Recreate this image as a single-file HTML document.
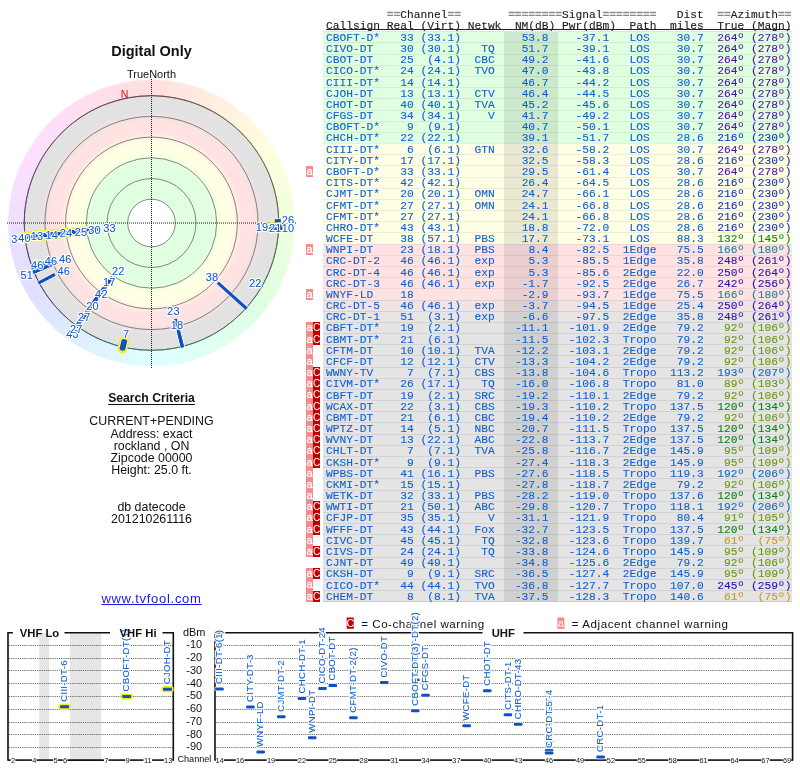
<!DOCTYPE html>
<html><head><meta charset="utf-8"><title>TV Fool</title>
<style>
html,body{margin:0;padding:0;background:#fff;}
body{width:800px;height:768px;position:relative;overflow:hidden;font-family:"Liberation Sans",sans-serif;}
.abs{position:absolute;}
.m{position:absolute;font-family:"Liberation Mono",monospace;font-size:11.24px;line-height:11.176px;height:11.176px;white-space:pre;color:#1060d0;-webkit-text-stroke-width:0.1px;}
.h{position:absolute;font-family:"Liberation Mono",monospace;font-size:11.24px;line-height:11px;white-space:pre;color:#1a1a1a;-webkit-text-stroke-width:0.12px;}
.g{color:#8a8a8a;-webkit-text-stroke:0.45px #8a8a8a;}
.row{position:absolute;left:323px;width:469px;height:11.176px;box-sizing:border-box;}
.c{position:absolute;font-size:12.4px;line-height:12.4px;color:#111;white-space:pre;text-align:center;left:0;width:303px;}
.wa{position:absolute;left:306px;width:7px;background:#f58a8a;color:#fff;font-family:"Liberation Sans",sans-serif;font-size:11px;text-align:center;-webkit-text-stroke:0.3px #fff;}
.wc{position:absolute;left:313px;width:7px;background:#c00000;color:#fff;font-family:"Liberation Sans",sans-serif;font-size:10px;text-align:center;}
</style></head><body><div id="w" style="position:absolute;left:0;top:0;width:800px;height:768px;will-change:transform;">

<div class="c" style="top:42px;font-size:14.5px;line-height:18px;font-weight:bold;">Digital Only</div>
<div class="c" style="top:67.9px;font-size:11px;line-height:12px;">TrueNorth</div>
<div class="c" style="top:391px;font-size:12.2px;line-height:14px;font-weight:bold;"><span style="text-decoration:underline;text-underline-offset:1.5px;text-decoration-thickness:1.4px;">Search Criteria</span></div>
<div class="c" style="top:414.6px;">CURRENT+PENDING</div>
<div class="c" style="top:427.6px;">Address: exact</div>
<div class="c" style="top:439.6px;">rockland , ON</div>
<div class="c" style="top:451.6px;">Zipcode 00000</div>
<div class="c" style="top:463.6px;">Height: 25.0 ft.</div>
<div class="c" style="top:500.6px;">db datecode</div>
<div class="c" style="top:513.4px;">201210261116</div>
<div class="c" style="top:590.8px;font-size:13px;line-height:16px;color:#1a1ad8;letter-spacing:0.7px;"><span style="text-decoration:underline;">www.tvfool.com</span></div>
<div class="h" style="left:386.71px;top:10px;"><span class="g">==</span>Channel<span class="g">==</span></div>
<div class="h" style="left:508.14px;top:10px;"><span class="g">========</span>Signal<span class="g">========</span></div>
<div class="h" style="left:676.79px;top:10px;">Dist</div>
<div class="h" style="left:717.27px;top:10px;"><span class="g">==</span>Azimuth<span class="g">==</span></div>
<div class="h" style="left:326.00px;top:21.4px;">Callsign</div>
<div class="h" style="left:386.71px;top:21.4px;">Real</div>
<div class="h" style="left:420.44px;top:21.4px;">(Virt)</div>
<div class="h" style="left:467.67px;top:21.4px;">Netwk</div>
<div class="h" style="left:514.89px;top:21.4px;">NM(dB)</div>
<div class="h" style="left:562.11px;top:21.4px;">Pwr(dBm)</div>
<div class="h" style="left:629.57px;top:21.4px;">Path</div>
<div class="h" style="left:670.05px;top:21.4px;">miles</div>
<div class="h" style="left:717.27px;top:21.4px;">True</div>
<div class="h" style="left:751.00px;top:21.4px;">(Magn)</div>
<div class="abs" style="left:326px;top:29.3px;width:464px;height:1.1px;background:#222;"></div>
<div class="abs" style="left:323px;width:469px;top:31.800px;height:112.065px;background:#e0ffe0;"></div>
<div class="abs" style="left:323px;width:469px;top:143.565px;height:100.888px;background:#ffffe6;"></div>
<div class="abs" style="left:323px;width:469px;top:244.153px;height:56.182px;background:#ffe3e3;"></div>
<div class="abs" style="left:323px;width:469px;top:300.035px;height:11.476px;background:#f1e3e3;"></div>
<div class="abs" style="left:323px;width:469px;top:311.212px;height:11.476px;background:#e7e4e4;"></div>
<div class="abs" style="left:323px;width:469px;top:322.388px;height:279.712px;background:#e4e4e4;"></div>
<div class="abs" style="left:323px;width:469px;top:31.300px;height:1px;background:#d0eed0;"></div>
<div class="abs" style="left:323px;width:469px;top:42.476px;height:1px;background:#d0eed0;"></div>
<div class="abs" style="left:323px;width:469px;top:53.653px;height:1px;background:#d0eed0;"></div>
<div class="abs" style="left:323px;width:469px;top:64.829px;height:1px;background:#d0eed0;"></div>
<div class="abs" style="left:323px;width:469px;top:76.006px;height:1px;background:#d0eed0;"></div>
<div class="abs" style="left:323px;width:469px;top:87.182px;height:1px;background:#d0eed0;"></div>
<div class="abs" style="left:323px;width:469px;top:98.359px;height:1px;background:#d0eed0;"></div>
<div class="abs" style="left:323px;width:469px;top:109.535px;height:1px;background:#d0eed0;"></div>
<div class="abs" style="left:323px;width:469px;top:120.712px;height:1px;background:#d0eed0;"></div>
<div class="abs" style="left:323px;width:469px;top:131.888px;height:1px;background:#d0eed0;"></div>
<div class="abs" style="left:323px;width:469px;top:143.065px;height:1px;background:#eeeed6;"></div>
<div class="abs" style="left:323px;width:469px;top:154.241px;height:1px;background:#eeeed6;"></div>
<div class="abs" style="left:323px;width:469px;top:165.418px;height:1px;background:#eeeed6;"></div>
<div class="abs" style="left:323px;width:469px;top:176.594px;height:1px;background:#eeeed6;"></div>
<div class="abs" style="left:323px;width:469px;top:187.771px;height:1px;background:#eeeed6;"></div>
<div class="abs" style="left:323px;width:469px;top:198.947px;height:1px;background:#eeeed6;"></div>
<div class="abs" style="left:323px;width:469px;top:210.124px;height:1px;background:#eeeed6;"></div>
<div class="abs" style="left:323px;width:469px;top:221.300px;height:1px;background:#eeeed6;"></div>
<div class="abs" style="left:323px;width:469px;top:232.476px;height:1px;background:#eeeed6;"></div>
<div class="abs" style="left:323px;width:469px;top:243.653px;height:1px;background:#eed5d5;"></div>
<div class="abs" style="left:323px;width:469px;top:254.829px;height:1px;background:#eed5d5;"></div>
<div class="abs" style="left:323px;width:469px;top:266.006px;height:1px;background:#eed5d5;"></div>
<div class="abs" style="left:323px;width:469px;top:277.182px;height:1px;background:#eed5d5;"></div>
<div class="abs" style="left:323px;width:469px;top:288.359px;height:1px;background:#eed5d5;"></div>
<div class="abs" style="left:323px;width:469px;top:299.535px;height:1px;background:#e0d2d2;"></div>
<div class="abs" style="left:323px;width:469px;top:310.712px;height:1px;background:#d5d2d2;"></div>
<div class="abs" style="left:323px;width:469px;top:321.888px;height:1px;background:#d3d3d3;"></div>
<div class="abs" style="left:323px;width:469px;top:333.065px;height:1px;background:#d3d3d3;"></div>
<div class="abs" style="left:323px;width:469px;top:344.241px;height:1px;background:#d3d3d3;"></div>
<div class="abs" style="left:323px;width:469px;top:355.418px;height:1px;background:#d3d3d3;"></div>
<div class="abs" style="left:323px;width:469px;top:366.594px;height:1px;background:#d3d3d3;"></div>
<div class="abs" style="left:323px;width:469px;top:377.771px;height:1px;background:#d3d3d3;"></div>
<div class="abs" style="left:323px;width:469px;top:388.947px;height:1px;background:#d3d3d3;"></div>
<div class="abs" style="left:323px;width:469px;top:400.124px;height:1px;background:#d3d3d3;"></div>
<div class="abs" style="left:323px;width:469px;top:411.300px;height:1px;background:#d3d3d3;"></div>
<div class="abs" style="left:323px;width:469px;top:422.476px;height:1px;background:#d3d3d3;"></div>
<div class="abs" style="left:323px;width:469px;top:433.653px;height:1px;background:#d3d3d3;"></div>
<div class="abs" style="left:323px;width:469px;top:444.829px;height:1px;background:#d3d3d3;"></div>
<div class="abs" style="left:323px;width:469px;top:456.006px;height:1px;background:#d3d3d3;"></div>
<div class="abs" style="left:323px;width:469px;top:467.182px;height:1px;background:#d3d3d3;"></div>
<div class="abs" style="left:323px;width:469px;top:478.359px;height:1px;background:#d3d3d3;"></div>
<div class="abs" style="left:323px;width:469px;top:489.535px;height:1px;background:#d3d3d3;"></div>
<div class="abs" style="left:323px;width:469px;top:500.712px;height:1px;background:#d3d3d3;"></div>
<div class="abs" style="left:323px;width:469px;top:511.888px;height:1px;background:#d3d3d3;"></div>
<div class="abs" style="left:323px;width:469px;top:523.065px;height:1px;background:#d3d3d3;"></div>
<div class="abs" style="left:323px;width:469px;top:534.241px;height:1px;background:#d3d3d3;"></div>
<div class="abs" style="left:323px;width:469px;top:545.418px;height:1px;background:#d3d3d3;"></div>
<div class="abs" style="left:323px;width:469px;top:556.594px;height:1px;background:#d3d3d3;"></div>
<div class="abs" style="left:323px;width:469px;top:567.771px;height:1px;background:#d3d3d3;"></div>
<div class="abs" style="left:323px;width:469px;top:578.947px;height:1px;background:#d3d3d3;"></div>
<div class="abs" style="left:323px;width:469px;top:590.124px;height:1px;background:#d3d3d3;"></div>
<div class="abs" style="left:504.2px;top:31.80px;width:53.8px;height:570.00px;background:rgba(0,0,0,0.085);"></div>
<div class="abs" style="left:323px;top:601.30px;width:469px;height:1px;background:#cacaca;"></div>
<div class="m" style="left:326.00px;top:32.900px;">CBOFT-D*</div>
<div class="m" style="left:400.21px;top:32.900px;">33</div>
<div class="m" style="left:420.44px;top:32.900px;">(33.1)</div>
<div class="m" style="left:521.63px;top:32.900px;">53.8</div>
<div class="m" style="left:575.60px;top:32.900px;">-37.1</div>
<div class="m" style="left:629.57px;top:32.900px;">LOS</div>
<div class="m" style="left:676.79px;top:32.900px;">30.7</div>
<div class="m" style="left:717.27px;top:32.900px;color:#5010a0;">264º</div>
<div class="m" style="left:751.00px;top:32.900px;color:#5010a0;">(278º)</div>
<div class="m" style="left:326.00px;top:44.076px;">CIVO-DT</div>
<div class="m" style="left:400.21px;top:44.076px;">30</div>
<div class="m" style="left:420.44px;top:44.076px;">(30.1)</div>
<div class="m" style="left:481.16px;top:44.076px;">TQ</div>
<div class="m" style="left:521.63px;top:44.076px;">51.7</div>
<div class="m" style="left:575.60px;top:44.076px;">-39.1</div>
<div class="m" style="left:629.57px;top:44.076px;">LOS</div>
<div class="m" style="left:676.79px;top:44.076px;">30.7</div>
<div class="m" style="left:717.27px;top:44.076px;color:#5010a0;">264º</div>
<div class="m" style="left:751.00px;top:44.076px;color:#5010a0;">(278º)</div>
<div class="m" style="left:326.00px;top:55.253px;">CBOT-DT</div>
<div class="m" style="left:400.21px;top:55.253px;">25</div>
<div class="m" style="left:427.19px;top:55.253px;">(4.1)</div>
<div class="m" style="left:474.41px;top:55.253px;">CBC</div>
<div class="m" style="left:521.63px;top:55.253px;">49.2</div>
<div class="m" style="left:575.60px;top:55.253px;">-41.6</div>
<div class="m" style="left:629.57px;top:55.253px;">LOS</div>
<div class="m" style="left:676.79px;top:55.253px;">30.7</div>
<div class="m" style="left:717.27px;top:55.253px;color:#5010a0;">264º</div>
<div class="m" style="left:751.00px;top:55.253px;color:#5010a0;">(278º)</div>
<div class="m" style="left:326.00px;top:66.429px;">CICO-DT*</div>
<div class="m" style="left:400.21px;top:66.429px;">24</div>
<div class="m" style="left:420.44px;top:66.429px;">(24.1)</div>
<div class="m" style="left:474.41px;top:66.429px;">TVO</div>
<div class="m" style="left:521.63px;top:66.429px;">47.0</div>
<div class="m" style="left:575.60px;top:66.429px;">-43.8</div>
<div class="m" style="left:629.57px;top:66.429px;">LOS</div>
<div class="m" style="left:676.79px;top:66.429px;">30.7</div>
<div class="m" style="left:717.27px;top:66.429px;color:#5010a0;">264º</div>
<div class="m" style="left:751.00px;top:66.429px;color:#5010a0;">(278º)</div>
<div class="m" style="left:326.00px;top:77.606px;">CIII-DT*</div>
<div class="m" style="left:400.21px;top:77.606px;">14</div>
<div class="m" style="left:420.44px;top:77.606px;">(14.1)</div>
<div class="m" style="left:521.63px;top:77.606px;">46.7</div>
<div class="m" style="left:575.60px;top:77.606px;">-44.2</div>
<div class="m" style="left:629.57px;top:77.606px;">LOS</div>
<div class="m" style="left:676.79px;top:77.606px;">30.7</div>
<div class="m" style="left:717.27px;top:77.606px;color:#5010a0;">264º</div>
<div class="m" style="left:751.00px;top:77.606px;color:#5010a0;">(278º)</div>
<div class="m" style="left:326.00px;top:88.782px;">CJOH-DT</div>
<div class="m" style="left:400.21px;top:88.782px;">13</div>
<div class="m" style="left:420.44px;top:88.782px;">(13.1)</div>
<div class="m" style="left:474.41px;top:88.782px;">CTV</div>
<div class="m" style="left:521.63px;top:88.782px;">46.4</div>
<div class="m" style="left:575.60px;top:88.782px;">-44.5</div>
<div class="m" style="left:629.57px;top:88.782px;">LOS</div>
<div class="m" style="left:676.79px;top:88.782px;">30.7</div>
<div class="m" style="left:717.27px;top:88.782px;color:#5010a0;">264º</div>
<div class="m" style="left:751.00px;top:88.782px;color:#5010a0;">(278º)</div>
<div class="m" style="left:326.00px;top:99.959px;">CHOT-DT</div>
<div class="m" style="left:400.21px;top:99.959px;">40</div>
<div class="m" style="left:420.44px;top:99.959px;">(40.1)</div>
<div class="m" style="left:474.41px;top:99.959px;">TVA</div>
<div class="m" style="left:521.63px;top:99.959px;">45.2</div>
<div class="m" style="left:575.60px;top:99.959px;">-45.6</div>
<div class="m" style="left:629.57px;top:99.959px;">LOS</div>
<div class="m" style="left:676.79px;top:99.959px;">30.7</div>
<div class="m" style="left:717.27px;top:99.959px;color:#5010a0;">264º</div>
<div class="m" style="left:751.00px;top:99.959px;color:#5010a0;">(278º)</div>
<div class="m" style="left:326.00px;top:111.135px;">CFGS-DT</div>
<div class="m" style="left:400.21px;top:111.135px;">34</div>
<div class="m" style="left:420.44px;top:111.135px;">(34.1)</div>
<div class="m" style="left:487.90px;top:111.135px;">V</div>
<div class="m" style="left:521.63px;top:111.135px;">41.7</div>
<div class="m" style="left:575.60px;top:111.135px;">-49.2</div>
<div class="m" style="left:629.57px;top:111.135px;">LOS</div>
<div class="m" style="left:676.79px;top:111.135px;">30.7</div>
<div class="m" style="left:717.27px;top:111.135px;color:#5010a0;">264º</div>
<div class="m" style="left:751.00px;top:111.135px;color:#5010a0;">(278º)</div>
<div class="m" style="left:326.00px;top:122.312px;">CBOFT-D*</div>
<div class="m" style="left:406.95px;top:122.312px;">9</div>
<div class="m" style="left:427.19px;top:122.312px;">(9.1)</div>
<div class="m" style="left:521.63px;top:122.312px;">40.7</div>
<div class="m" style="left:575.60px;top:122.312px;">-50.1</div>
<div class="m" style="left:629.57px;top:122.312px;">LOS</div>
<div class="m" style="left:676.79px;top:122.312px;">30.7</div>
<div class="m" style="left:717.27px;top:122.312px;color:#5010a0;">264º</div>
<div class="m" style="left:751.00px;top:122.312px;color:#5010a0;">(278º)</div>
<div class="m" style="left:326.00px;top:133.488px;">CHCH-DT*</div>
<div class="m" style="left:400.21px;top:133.488px;">22</div>
<div class="m" style="left:420.44px;top:133.488px;">(22.1)</div>
<div class="m" style="left:521.63px;top:133.488px;">39.1</div>
<div class="m" style="left:575.60px;top:133.488px;">-51.7</div>
<div class="m" style="left:629.57px;top:133.488px;">LOS</div>
<div class="m" style="left:676.79px;top:133.488px;">28.6</div>
<div class="m" style="left:717.27px;top:133.488px;color:#1830b0;">216º</div>
<div class="m" style="left:751.00px;top:133.488px;color:#1830b0;">(230º)</div>
<div class="m" style="left:326.00px;top:144.665px;">CIII-DT*</div>
<div class="m" style="left:406.95px;top:144.665px;">6</div>
<div class="m" style="left:427.19px;top:144.665px;">(6.1)</div>
<div class="m" style="left:474.41px;top:144.665px;">GTN</div>
<div class="m" style="left:521.63px;top:144.665px;">32.6</div>
<div class="m" style="left:575.60px;top:144.665px;">-58.2</div>
<div class="m" style="left:629.57px;top:144.665px;">LOS</div>
<div class="m" style="left:676.79px;top:144.665px;">30.7</div>
<div class="m" style="left:717.27px;top:144.665px;color:#5010a0;">264º</div>
<div class="m" style="left:751.00px;top:144.665px;color:#5010a0;">(278º)</div>
<div class="m" style="left:326.00px;top:155.841px;">CITY-DT*</div>
<div class="m" style="left:400.21px;top:155.841px;">17</div>
<div class="m" style="left:420.44px;top:155.841px;">(17.1)</div>
<div class="m" style="left:521.63px;top:155.841px;">32.5</div>
<div class="m" style="left:575.60px;top:155.841px;">-58.3</div>
<div class="m" style="left:629.57px;top:155.841px;">LOS</div>
<div class="m" style="left:676.79px;top:155.841px;">28.6</div>
<div class="m" style="left:717.27px;top:155.841px;color:#1830b0;">216º</div>
<div class="m" style="left:751.00px;top:155.841px;color:#1830b0;">(230º)</div>
<div class="m" style="left:326.00px;top:167.018px;">CBOFT-D*</div>
<div class="m" style="left:400.21px;top:167.018px;">33</div>
<div class="m" style="left:420.44px;top:167.018px;">(33.1)</div>
<div class="m" style="left:521.63px;top:167.018px;">29.5</div>
<div class="m" style="left:575.60px;top:167.018px;">-61.4</div>
<div class="m" style="left:629.57px;top:167.018px;">LOS</div>
<div class="m" style="left:676.79px;top:167.018px;">30.7</div>
<div class="m" style="left:717.27px;top:167.018px;color:#5010a0;">264º</div>
<div class="m" style="left:751.00px;top:167.018px;color:#5010a0;">(278º)</div>
<div class="wa" style="top:165.918px;height:11.226px;line-height:10.176px;">a</div>
<div class="m" style="left:326.00px;top:178.194px;">CITS-DT*</div>
<div class="m" style="left:400.21px;top:178.194px;">42</div>
<div class="m" style="left:420.44px;top:178.194px;">(42.1)</div>
<div class="m" style="left:521.63px;top:178.194px;">26.4</div>
<div class="m" style="left:575.60px;top:178.194px;">-64.5</div>
<div class="m" style="left:629.57px;top:178.194px;">LOS</div>
<div class="m" style="left:676.79px;top:178.194px;">28.6</div>
<div class="m" style="left:717.27px;top:178.194px;color:#1830b0;">216º</div>
<div class="m" style="left:751.00px;top:178.194px;color:#1830b0;">(230º)</div>
<div class="m" style="left:326.00px;top:189.371px;">CJMT-DT*</div>
<div class="m" style="left:400.21px;top:189.371px;">20</div>
<div class="m" style="left:420.44px;top:189.371px;">(20.1)</div>
<div class="m" style="left:474.41px;top:189.371px;">OMN</div>
<div class="m" style="left:521.63px;top:189.371px;">24.7</div>
<div class="m" style="left:575.60px;top:189.371px;">-66.1</div>
<div class="m" style="left:629.57px;top:189.371px;">LOS</div>
<div class="m" style="left:676.79px;top:189.371px;">28.6</div>
<div class="m" style="left:717.27px;top:189.371px;color:#1830b0;">216º</div>
<div class="m" style="left:751.00px;top:189.371px;color:#1830b0;">(230º)</div>
<div class="m" style="left:326.00px;top:200.547px;">CFMT-DT*</div>
<div class="m" style="left:400.21px;top:200.547px;">27</div>
<div class="m" style="left:420.44px;top:200.547px;">(27.1)</div>
<div class="m" style="left:474.41px;top:200.547px;">OMN</div>
<div class="m" style="left:521.63px;top:200.547px;">24.1</div>
<div class="m" style="left:575.60px;top:200.547px;">-66.8</div>
<div class="m" style="left:629.57px;top:200.547px;">LOS</div>
<div class="m" style="left:676.79px;top:200.547px;">28.6</div>
<div class="m" style="left:717.27px;top:200.547px;color:#1830b0;">216º</div>
<div class="m" style="left:751.00px;top:200.547px;color:#1830b0;">(230º)</div>
<div class="m" style="left:326.00px;top:211.724px;">CFMT-DT*</div>
<div class="m" style="left:400.21px;top:211.724px;">27</div>
<div class="m" style="left:420.44px;top:211.724px;">(27.1)</div>
<div class="m" style="left:521.63px;top:211.724px;">24.1</div>
<div class="m" style="left:575.60px;top:211.724px;">-66.8</div>
<div class="m" style="left:629.57px;top:211.724px;">LOS</div>
<div class="m" style="left:676.79px;top:211.724px;">28.6</div>
<div class="m" style="left:717.27px;top:211.724px;color:#1830b0;">216º</div>
<div class="m" style="left:751.00px;top:211.724px;color:#1830b0;">(230º)</div>
<div class="m" style="left:326.00px;top:222.900px;">CHRO-DT*</div>
<div class="m" style="left:400.21px;top:222.900px;">43</div>
<div class="m" style="left:420.44px;top:222.900px;">(43.1)</div>
<div class="m" style="left:521.63px;top:222.900px;">18.8</div>
<div class="m" style="left:575.60px;top:222.900px;">-72.0</div>
<div class="m" style="left:629.57px;top:222.900px;">LOS</div>
<div class="m" style="left:676.79px;top:222.900px;">28.6</div>
<div class="m" style="left:717.27px;top:222.900px;color:#1830b0;">216º</div>
<div class="m" style="left:751.00px;top:222.900px;color:#1830b0;">(230º)</div>
<div class="m" style="left:326.00px;top:234.076px;">WCFE-DT</div>
<div class="m" style="left:400.21px;top:234.076px;">38</div>
<div class="m" style="left:420.44px;top:234.076px;">(57.1)</div>
<div class="m" style="left:474.41px;top:234.076px;">PBS</div>
<div class="m" style="left:521.63px;top:234.076px;">17.7</div>
<div class="m" style="left:575.60px;top:234.076px;">-73.1</div>
<div class="m" style="left:629.57px;top:234.076px;">LOS</div>
<div class="m" style="left:676.79px;top:234.076px;">88.3</div>
<div class="m" style="left:717.27px;top:234.076px;color:#108818;">132º</div>
<div class="m" style="left:751.00px;top:234.076px;color:#108818;">(145º)</div>
<div class="m" style="left:326.00px;top:245.253px;">WNPI-DT</div>
<div class="m" style="left:400.21px;top:245.253px;">23</div>
<div class="m" style="left:420.44px;top:245.253px;">(18.1)</div>
<div class="m" style="left:474.41px;top:245.253px;">PBS</div>
<div class="m" style="left:528.38px;top:245.253px;">8.4</div>
<div class="m" style="left:575.60px;top:245.253px;">-82.5</div>
<div class="m" style="left:622.82px;top:245.253px;">1Edge</div>
<div class="m" style="left:676.79px;top:245.253px;">75.5</div>
<div class="m" style="left:717.27px;top:245.253px;color:#208098;">166º</div>
<div class="m" style="left:751.00px;top:245.253px;color:#208098;">(180º)</div>
<div class="wa" style="top:244.153px;height:11.226px;line-height:10.176px;">a</div>
<div class="m" style="left:326.00px;top:256.429px;">CRC-DT-2</div>
<div class="m" style="left:400.21px;top:256.429px;">46</div>
<div class="m" style="left:420.44px;top:256.429px;">(46.1)</div>
<div class="m" style="left:474.41px;top:256.429px;">exp</div>
<div class="m" style="left:528.38px;top:256.429px;">5.3</div>
<div class="m" style="left:575.60px;top:256.429px;">-85.5</div>
<div class="m" style="left:622.82px;top:256.429px;">1Edge</div>
<div class="m" style="left:676.79px;top:256.429px;">35.8</div>
<div class="m" style="left:717.27px;top:256.429px;color:#3010b0;">248º</div>
<div class="m" style="left:751.00px;top:256.429px;color:#3010b0;">(261º)</div>
<div class="m" style="left:326.00px;top:267.606px;">CRC-DT-4</div>
<div class="m" style="left:400.21px;top:267.606px;">46</div>
<div class="m" style="left:420.44px;top:267.606px;">(46.1)</div>
<div class="m" style="left:474.41px;top:267.606px;">exp</div>
<div class="m" style="left:528.38px;top:267.606px;">5.3</div>
<div class="m" style="left:575.60px;top:267.606px;">-85.6</div>
<div class="m" style="left:622.82px;top:267.606px;">2Edge</div>
<div class="m" style="left:676.79px;top:267.606px;">22.0</div>
<div class="m" style="left:717.27px;top:267.606px;color:#3010b0;">250º</div>
<div class="m" style="left:751.00px;top:267.606px;color:#3010b0;">(264º)</div>
<div class="m" style="left:326.00px;top:278.782px;">CRC-DT-3</div>
<div class="m" style="left:400.21px;top:278.782px;">46</div>
<div class="m" style="left:420.44px;top:278.782px;">(46.1)</div>
<div class="m" style="left:474.41px;top:278.782px;">exp</div>
<div class="m" style="left:521.63px;top:278.782px;">-1.7</div>
<div class="m" style="left:575.60px;top:278.782px;">-92.5</div>
<div class="m" style="left:622.82px;top:278.782px;">2Edge</div>
<div class="m" style="left:676.79px;top:278.782px;">26.7</div>
<div class="m" style="left:717.27px;top:278.782px;color:#2010b0;">242º</div>
<div class="m" style="left:751.00px;top:278.782px;color:#2010b0;">(256º)</div>
<div class="m" style="left:326.00px;top:289.959px;">WNYF-LD</div>
<div class="m" style="left:400.21px;top:289.959px;">18</div>
<div class="m" style="left:521.63px;top:289.959px;">-2.9</div>
<div class="m" style="left:575.60px;top:289.959px;">-93.7</div>
<div class="m" style="left:622.82px;top:289.959px;">1Edge</div>
<div class="m" style="left:676.79px;top:289.959px;">75.5</div>
<div class="m" style="left:717.27px;top:289.959px;color:#208098;">166º</div>
<div class="m" style="left:751.00px;top:289.959px;color:#208098;">(180º)</div>
<div class="wa" style="top:288.859px;height:11.226px;line-height:10.176px;">a</div>
<div class="m" style="left:326.00px;top:301.135px;">CRC-DT-5</div>
<div class="m" style="left:400.21px;top:301.135px;">46</div>
<div class="m" style="left:420.44px;top:301.135px;">(46.1)</div>
<div class="m" style="left:474.41px;top:301.135px;">exp</div>
<div class="m" style="left:521.63px;top:301.135px;">-3.7</div>
<div class="m" style="left:575.60px;top:301.135px;">-94.5</div>
<div class="m" style="left:622.82px;top:301.135px;">1Edge</div>
<div class="m" style="left:676.79px;top:301.135px;">25.4</div>
<div class="m" style="left:717.27px;top:301.135px;color:#3010b0;">250º</div>
<div class="m" style="left:751.00px;top:301.135px;color:#3010b0;">(264º)</div>
<div class="m" style="left:326.00px;top:312.312px;">CRC-DT-1</div>
<div class="m" style="left:400.21px;top:312.312px;">51</div>
<div class="m" style="left:427.19px;top:312.312px;">(3.1)</div>
<div class="m" style="left:474.41px;top:312.312px;">exp</div>
<div class="m" style="left:521.63px;top:312.312px;">-6.6</div>
<div class="m" style="left:575.60px;top:312.312px;">-97.5</div>
<div class="m" style="left:622.82px;top:312.312px;">2Edge</div>
<div class="m" style="left:676.79px;top:312.312px;">35.8</div>
<div class="m" style="left:717.27px;top:312.312px;color:#3010b0;">248º</div>
<div class="m" style="left:751.00px;top:312.312px;color:#3010b0;">(261º)</div>
<div class="m" style="left:326.00px;top:323.488px;">CBFT-DT*</div>
<div class="m" style="left:400.21px;top:323.488px;">19</div>
<div class="m" style="left:427.19px;top:323.488px;">(2.1)</div>
<div class="m" style="left:514.89px;top:323.488px;">-11.1</div>
<div class="m" style="left:568.86px;top:323.488px;">-101.9</div>
<div class="m" style="left:622.82px;top:323.488px;">2Edge</div>
<div class="m" style="left:676.79px;top:323.488px;">79.2</div>
<div class="m" style="left:724.01px;top:323.488px;color:#689810;">92º</div>
<div class="m" style="left:751.00px;top:323.488px;color:#689810;">(106º)</div>
<div class="wa" style="top:322.388px;height:11.226px;line-height:10.176px;">a</div>
<div class="wc" style="top:322.388px;height:11.226px;line-height:11.176px;">C</div>
<div class="m" style="left:326.00px;top:334.665px;">CBMT-DT*</div>
<div class="m" style="left:400.21px;top:334.665px;">21</div>
<div class="m" style="left:427.19px;top:334.665px;">(6.1)</div>
<div class="m" style="left:514.89px;top:334.665px;">-11.5</div>
<div class="m" style="left:568.86px;top:334.665px;">-102.3</div>
<div class="m" style="left:622.82px;top:334.665px;">Tropo</div>
<div class="m" style="left:676.79px;top:334.665px;">79.2</div>
<div class="m" style="left:724.01px;top:334.665px;color:#689810;">92º</div>
<div class="m" style="left:751.00px;top:334.665px;color:#689810;">(106º)</div>
<div class="wa" style="top:333.565px;height:11.226px;line-height:10.176px;">a</div>
<div class="wc" style="top:333.565px;height:11.226px;line-height:11.176px;">C</div>
<div class="m" style="left:326.00px;top:345.841px;">CFTM-DT</div>
<div class="m" style="left:400.21px;top:345.841px;">10</div>
<div class="m" style="left:420.44px;top:345.841px;">(10.1)</div>
<div class="m" style="left:474.41px;top:345.841px;">TVA</div>
<div class="m" style="left:514.89px;top:345.841px;">-12.2</div>
<div class="m" style="left:568.86px;top:345.841px;">-103.1</div>
<div class="m" style="left:622.82px;top:345.841px;">2Edge</div>
<div class="m" style="left:676.79px;top:345.841px;">79.2</div>
<div class="m" style="left:724.01px;top:345.841px;color:#689810;">92º</div>
<div class="m" style="left:751.00px;top:345.841px;color:#689810;">(106º)</div>
<div class="wa" style="top:344.741px;height:11.226px;line-height:10.176px;">a</div>
<div class="m" style="left:326.00px;top:357.018px;">CFCF-DT</div>
<div class="m" style="left:400.21px;top:357.018px;">12</div>
<div class="m" style="left:420.44px;top:357.018px;">(12.1)</div>
<div class="m" style="left:474.41px;top:357.018px;">CTV</div>
<div class="m" style="left:514.89px;top:357.018px;">-13.3</div>
<div class="m" style="left:568.86px;top:357.018px;">-104.2</div>
<div class="m" style="left:622.82px;top:357.018px;">2Edge</div>
<div class="m" style="left:676.79px;top:357.018px;">79.2</div>
<div class="m" style="left:724.01px;top:357.018px;color:#689810;">92º</div>
<div class="m" style="left:751.00px;top:357.018px;color:#689810;">(106º)</div>
<div class="wa" style="top:355.918px;height:11.226px;line-height:10.176px;">a</div>
<div class="m" style="left:326.00px;top:368.194px;">WWNY-TV</div>
<div class="m" style="left:406.95px;top:368.194px;">7</div>
<div class="m" style="left:427.19px;top:368.194px;">(7.1)</div>
<div class="m" style="left:474.41px;top:368.194px;">CBS</div>
<div class="m" style="left:514.89px;top:368.194px;">-13.8</div>
<div class="m" style="left:568.86px;top:368.194px;">-104.6</div>
<div class="m" style="left:622.82px;top:368.194px;">Tropo</div>
<div class="m" style="left:670.05px;top:368.194px;">113.2</div>
<div class="m" style="left:717.27px;top:368.194px;color:#1868b8;">193º</div>
<div class="m" style="left:751.00px;top:368.194px;color:#1868b8;">(207º)</div>
<div class="wa" style="top:367.094px;height:11.226px;line-height:10.176px;">a</div>
<div class="wc" style="top:367.094px;height:11.226px;line-height:11.176px;">C</div>
<div class="m" style="left:326.00px;top:379.371px;">CIVM-DT*</div>
<div class="m" style="left:400.21px;top:379.371px;">26</div>
<div class="m" style="left:420.44px;top:379.371px;">(17.1)</div>
<div class="m" style="left:481.16px;top:379.371px;">TQ</div>
<div class="m" style="left:514.89px;top:379.371px;">-16.0</div>
<div class="m" style="left:568.86px;top:379.371px;">-106.8</div>
<div class="m" style="left:622.82px;top:379.371px;">Tropo</div>
<div class="m" style="left:676.79px;top:379.371px;">81.0</div>
<div class="m" style="left:724.01px;top:379.371px;color:#689810;">89º</div>
<div class="m" style="left:751.00px;top:379.371px;color:#689810;">(103º)</div>
<div class="wa" style="top:378.271px;height:11.226px;line-height:10.176px;">a</div>
<div class="wc" style="top:378.271px;height:11.226px;line-height:11.176px;">C</div>
<div class="m" style="left:326.00px;top:390.547px;">CBFT-DT</div>
<div class="m" style="left:400.21px;top:390.547px;">19</div>
<div class="m" style="left:427.19px;top:390.547px;">(2.1)</div>
<div class="m" style="left:474.41px;top:390.547px;">SRC</div>
<div class="m" style="left:514.89px;top:390.547px;">-19.2</div>
<div class="m" style="left:568.86px;top:390.547px;">-110.1</div>
<div class="m" style="left:622.82px;top:390.547px;">2Edge</div>
<div class="m" style="left:676.79px;top:390.547px;">79.2</div>
<div class="m" style="left:724.01px;top:390.547px;color:#689810;">92º</div>
<div class="m" style="left:751.00px;top:390.547px;color:#689810;">(106º)</div>
<div class="wa" style="top:389.447px;height:11.226px;line-height:10.176px;">a</div>
<div class="wc" style="top:389.447px;height:11.226px;line-height:11.176px;">C</div>
<div class="m" style="left:326.00px;top:401.724px;">WCAX-DT</div>
<div class="m" style="left:400.21px;top:401.724px;">22</div>
<div class="m" style="left:427.19px;top:401.724px;">(3.1)</div>
<div class="m" style="left:474.41px;top:401.724px;">CBS</div>
<div class="m" style="left:514.89px;top:401.724px;">-19.3</div>
<div class="m" style="left:568.86px;top:401.724px;">-110.2</div>
<div class="m" style="left:622.82px;top:401.724px;">Tropo</div>
<div class="m" style="left:670.05px;top:401.724px;">137.5</div>
<div class="m" style="left:717.27px;top:401.724px;color:#108018;">120º</div>
<div class="m" style="left:751.00px;top:401.724px;color:#108018;">(134º)</div>
<div class="wa" style="top:400.624px;height:11.226px;line-height:10.176px;">a</div>
<div class="wc" style="top:400.624px;height:11.226px;line-height:11.176px;">C</div>
<div class="m" style="left:326.00px;top:412.900px;">CBMT-DT</div>
<div class="m" style="left:400.21px;top:412.900px;">21</div>
<div class="m" style="left:427.19px;top:412.900px;">(6.1)</div>
<div class="m" style="left:474.41px;top:412.900px;">CBC</div>
<div class="m" style="left:514.89px;top:412.900px;">-19.4</div>
<div class="m" style="left:568.86px;top:412.900px;">-110.2</div>
<div class="m" style="left:622.82px;top:412.900px;">2Edge</div>
<div class="m" style="left:676.79px;top:412.900px;">79.2</div>
<div class="m" style="left:724.01px;top:412.900px;color:#689810;">92º</div>
<div class="m" style="left:751.00px;top:412.900px;color:#689810;">(106º)</div>
<div class="wa" style="top:411.800px;height:11.226px;line-height:10.176px;">a</div>
<div class="wc" style="top:411.800px;height:11.226px;line-height:11.176px;">C</div>
<div class="m" style="left:326.00px;top:424.076px;">WPTZ-DT</div>
<div class="m" style="left:400.21px;top:424.076px;">14</div>
<div class="m" style="left:427.19px;top:424.076px;">(5.1)</div>
<div class="m" style="left:474.41px;top:424.076px;">NBC</div>
<div class="m" style="left:514.89px;top:424.076px;">-20.7</div>
<div class="m" style="left:568.86px;top:424.076px;">-111.5</div>
<div class="m" style="left:622.82px;top:424.076px;">Tropo</div>
<div class="m" style="left:670.05px;top:424.076px;">137.5</div>
<div class="m" style="left:717.27px;top:424.076px;color:#108018;">120º</div>
<div class="m" style="left:751.00px;top:424.076px;color:#108018;">(134º)</div>
<div class="wa" style="top:422.976px;height:11.226px;line-height:10.176px;">a</div>
<div class="wc" style="top:422.976px;height:11.226px;line-height:11.176px;">C</div>
<div class="m" style="left:326.00px;top:435.253px;">WVNY-DT</div>
<div class="m" style="left:400.21px;top:435.253px;">13</div>
<div class="m" style="left:420.44px;top:435.253px;">(22.1)</div>
<div class="m" style="left:474.41px;top:435.253px;">ABC</div>
<div class="m" style="left:514.89px;top:435.253px;">-22.8</div>
<div class="m" style="left:568.86px;top:435.253px;">-113.7</div>
<div class="m" style="left:622.82px;top:435.253px;">2Edge</div>
<div class="m" style="left:670.05px;top:435.253px;">137.5</div>
<div class="m" style="left:717.27px;top:435.253px;color:#108018;">120º</div>
<div class="m" style="left:751.00px;top:435.253px;color:#108018;">(134º)</div>
<div class="wa" style="top:434.153px;height:11.226px;line-height:10.176px;">a</div>
<div class="wc" style="top:434.153px;height:11.226px;line-height:11.176px;">C</div>
<div class="m" style="left:326.00px;top:446.429px;">CHLT-DT</div>
<div class="m" style="left:406.95px;top:446.429px;">7</div>
<div class="m" style="left:427.19px;top:446.429px;">(7.1)</div>
<div class="m" style="left:474.41px;top:446.429px;">TVA</div>
<div class="m" style="left:514.89px;top:446.429px;">-25.8</div>
<div class="m" style="left:568.86px;top:446.429px;">-116.7</div>
<div class="m" style="left:622.82px;top:446.429px;">2Edge</div>
<div class="m" style="left:670.05px;top:446.429px;">145.9</div>
<div class="m" style="left:724.01px;top:446.429px;color:#689810;">95º</div>
<div class="m" style="left:751.00px;top:446.429px;color:#689810;">(109º)</div>
<div class="wa" style="top:445.329px;height:11.226px;line-height:10.176px;">a</div>
<div class="wc" style="top:445.329px;height:11.226px;line-height:11.176px;">C</div>
<div class="m" style="left:326.00px;top:457.606px;">CKSH-DT*</div>
<div class="m" style="left:406.95px;top:457.606px;">9</div>
<div class="m" style="left:427.19px;top:457.606px;">(9.1)</div>
<div class="m" style="left:514.89px;top:457.606px;">-27.4</div>
<div class="m" style="left:568.86px;top:457.606px;">-118.3</div>
<div class="m" style="left:622.82px;top:457.606px;">2Edge</div>
<div class="m" style="left:670.05px;top:457.606px;">145.9</div>
<div class="m" style="left:724.01px;top:457.606px;color:#689810;">95º</div>
<div class="m" style="left:751.00px;top:457.606px;color:#689810;">(109º)</div>
<div class="wa" style="top:456.506px;height:11.226px;line-height:10.176px;">a</div>
<div class="wc" style="top:456.506px;height:11.226px;line-height:11.176px;">C</div>
<div class="m" style="left:326.00px;top:468.782px;">WPBS-DT</div>
<div class="m" style="left:400.21px;top:468.782px;">41</div>
<div class="m" style="left:420.44px;top:468.782px;">(16.1)</div>
<div class="m" style="left:474.41px;top:468.782px;">PBS</div>
<div class="m" style="left:514.89px;top:468.782px;">-27.6</div>
<div class="m" style="left:568.86px;top:468.782px;">-118.5</div>
<div class="m" style="left:622.82px;top:468.782px;">Tropo</div>
<div class="m" style="left:670.05px;top:468.782px;">119.3</div>
<div class="m" style="left:717.27px;top:468.782px;color:#1868b8;">192º</div>
<div class="m" style="left:751.00px;top:468.782px;color:#1868b8;">(206º)</div>
<div class="wa" style="top:467.682px;height:11.226px;line-height:10.176px;">a</div>
<div class="m" style="left:326.00px;top:479.959px;">CKMI-DT*</div>
<div class="m" style="left:400.21px;top:479.959px;">15</div>
<div class="m" style="left:420.44px;top:479.959px;">(15.1)</div>
<div class="m" style="left:514.89px;top:479.959px;">-27.8</div>
<div class="m" style="left:568.86px;top:479.959px;">-118.7</div>
<div class="m" style="left:622.82px;top:479.959px;">2Edge</div>
<div class="m" style="left:676.79px;top:479.959px;">79.2</div>
<div class="m" style="left:724.01px;top:479.959px;color:#689810;">92º</div>
<div class="m" style="left:751.00px;top:479.959px;color:#689810;">(106º)</div>
<div class="wa" style="top:478.859px;height:11.226px;line-height:10.176px;">a</div>
<div class="m" style="left:326.00px;top:491.135px;">WETK-DT</div>
<div class="m" style="left:400.21px;top:491.135px;">32</div>
<div class="m" style="left:420.44px;top:491.135px;">(33.1)</div>
<div class="m" style="left:474.41px;top:491.135px;">PBS</div>
<div class="m" style="left:514.89px;top:491.135px;">-28.2</div>
<div class="m" style="left:568.86px;top:491.135px;">-119.0</div>
<div class="m" style="left:622.82px;top:491.135px;">Tropo</div>
<div class="m" style="left:670.05px;top:491.135px;">137.6</div>
<div class="m" style="left:717.27px;top:491.135px;color:#108018;">120º</div>
<div class="m" style="left:751.00px;top:491.135px;color:#108018;">(134º)</div>
<div class="wa" style="top:490.035px;height:11.226px;line-height:10.176px;">a</div>
<div class="m" style="left:326.00px;top:502.312px;">WWTI-DT</div>
<div class="m" style="left:400.21px;top:502.312px;">21</div>
<div class="m" style="left:420.44px;top:502.312px;">(50.1)</div>
<div class="m" style="left:474.41px;top:502.312px;">ABC</div>
<div class="m" style="left:514.89px;top:502.312px;">-29.8</div>
<div class="m" style="left:568.86px;top:502.312px;">-120.7</div>
<div class="m" style="left:622.82px;top:502.312px;">Tropo</div>
<div class="m" style="left:670.05px;top:502.312px;">118.1</div>
<div class="m" style="left:717.27px;top:502.312px;color:#1868b8;">192º</div>
<div class="m" style="left:751.00px;top:502.312px;color:#1868b8;">(206º)</div>
<div class="wa" style="top:501.212px;height:11.226px;line-height:10.176px;">a</div>
<div class="wc" style="top:501.212px;height:11.226px;line-height:11.176px;">C</div>
<div class="m" style="left:326.00px;top:513.488px;">CFJP-DT</div>
<div class="m" style="left:400.21px;top:513.488px;">35</div>
<div class="m" style="left:420.44px;top:513.488px;">(35.1)</div>
<div class="m" style="left:487.90px;top:513.488px;">V</div>
<div class="m" style="left:514.89px;top:513.488px;">-31.1</div>
<div class="m" style="left:568.86px;top:513.488px;">-121.9</div>
<div class="m" style="left:622.82px;top:513.488px;">Tropo</div>
<div class="m" style="left:676.79px;top:513.488px;">80.4</div>
<div class="m" style="left:724.01px;top:513.488px;color:#689810;">91º</div>
<div class="m" style="left:751.00px;top:513.488px;color:#689810;">(105º)</div>
<div class="wa" style="top:512.388px;height:11.226px;line-height:10.176px;">a</div>
<div class="wc" style="top:512.388px;height:11.226px;line-height:11.176px;">C</div>
<div class="m" style="left:326.00px;top:524.665px;">WFFF-DT</div>
<div class="m" style="left:400.21px;top:524.665px;">43</div>
<div class="m" style="left:420.44px;top:524.665px;">(44.1)</div>
<div class="m" style="left:474.41px;top:524.665px;">Fox</div>
<div class="m" style="left:514.89px;top:524.665px;">-32.7</div>
<div class="m" style="left:568.86px;top:524.665px;">-123.5</div>
<div class="m" style="left:622.82px;top:524.665px;">Tropo</div>
<div class="m" style="left:670.05px;top:524.665px;">137.5</div>
<div class="m" style="left:717.27px;top:524.665px;color:#108018;">120º</div>
<div class="m" style="left:751.00px;top:524.665px;color:#108018;">(134º)</div>
<div class="wa" style="top:523.565px;height:11.226px;line-height:10.176px;">a</div>
<div class="wc" style="top:523.565px;height:11.226px;line-height:11.176px;">C</div>
<div class="m" style="left:326.00px;top:535.841px;">CIVC-DT</div>
<div class="m" style="left:400.21px;top:535.841px;">45</div>
<div class="m" style="left:420.44px;top:535.841px;">(45.1)</div>
<div class="m" style="left:481.16px;top:535.841px;">TQ</div>
<div class="m" style="left:514.89px;top:535.841px;">-32.8</div>
<div class="m" style="left:568.86px;top:535.841px;">-123.6</div>
<div class="m" style="left:622.82px;top:535.841px;">Tropo</div>
<div class="m" style="left:670.05px;top:535.841px;">139.7</div>
<div class="m" style="left:724.01px;top:535.841px;color:#c8a018;">61º</div>
<div class="m" style="left:757.74px;top:535.841px;color:#c8a018;">(75º)</div>
<div class="wa" style="top:534.741px;height:11.226px;line-height:10.176px;">a</div>
<div class="m" style="left:326.00px;top:547.018px;">CIVS-DT</div>
<div class="m" style="left:400.21px;top:547.018px;">24</div>
<div class="m" style="left:420.44px;top:547.018px;">(24.1)</div>
<div class="m" style="left:481.16px;top:547.018px;">TQ</div>
<div class="m" style="left:514.89px;top:547.018px;">-33.8</div>
<div class="m" style="left:568.86px;top:547.018px;">-124.6</div>
<div class="m" style="left:622.82px;top:547.018px;">Tropo</div>
<div class="m" style="left:670.05px;top:547.018px;">145.9</div>
<div class="m" style="left:724.01px;top:547.018px;color:#689810;">95º</div>
<div class="m" style="left:751.00px;top:547.018px;color:#689810;">(109º)</div>
<div class="wa" style="top:545.918px;height:11.226px;line-height:10.176px;">a</div>
<div class="wc" style="top:545.918px;height:11.226px;line-height:11.176px;">C</div>
<div class="m" style="left:326.00px;top:558.194px;">CJNT-DT</div>
<div class="m" style="left:400.21px;top:558.194px;">49</div>
<div class="m" style="left:420.44px;top:558.194px;">(49.1)</div>
<div class="m" style="left:514.89px;top:558.194px;">-34.8</div>
<div class="m" style="left:568.86px;top:558.194px;">-125.6</div>
<div class="m" style="left:622.82px;top:558.194px;">2Edge</div>
<div class="m" style="left:676.79px;top:558.194px;">79.2</div>
<div class="m" style="left:724.01px;top:558.194px;color:#689810;">92º</div>
<div class="m" style="left:751.00px;top:558.194px;color:#689810;">(106º)</div>
<div class="m" style="left:326.00px;top:569.371px;">CKSH-DT</div>
<div class="m" style="left:406.95px;top:569.371px;">9</div>
<div class="m" style="left:427.19px;top:569.371px;">(9.1)</div>
<div class="m" style="left:474.41px;top:569.371px;">SRC</div>
<div class="m" style="left:514.89px;top:569.371px;">-36.5</div>
<div class="m" style="left:568.86px;top:569.371px;">-127.4</div>
<div class="m" style="left:622.82px;top:569.371px;">2Edge</div>
<div class="m" style="left:670.05px;top:569.371px;">145.9</div>
<div class="m" style="left:724.01px;top:569.371px;color:#689810;">95º</div>
<div class="m" style="left:751.00px;top:569.371px;color:#689810;">(109º)</div>
<div class="wa" style="top:568.271px;height:11.226px;line-height:10.176px;">a</div>
<div class="wc" style="top:568.271px;height:11.226px;line-height:11.176px;">C</div>
<div class="m" style="left:326.00px;top:580.547px;">CICO-DT*</div>
<div class="m" style="left:400.21px;top:580.547px;">44</div>
<div class="m" style="left:420.44px;top:580.547px;">(44.1)</div>
<div class="m" style="left:474.41px;top:580.547px;">TVO</div>
<div class="m" style="left:514.89px;top:580.547px;">-36.8</div>
<div class="m" style="left:568.86px;top:580.547px;">-127.7</div>
<div class="m" style="left:622.82px;top:580.547px;">Tropo</div>
<div class="m" style="left:670.05px;top:580.547px;">107.0</div>
<div class="m" style="left:717.27px;top:580.547px;color:#2810b0;">245º</div>
<div class="m" style="left:751.00px;top:580.547px;color:#2810b0;">(259º)</div>
<div class="wa" style="top:579.447px;height:11.226px;line-height:10.176px;">a</div>
<div class="m" style="left:326.00px;top:591.724px;">CHEM-DT</div>
<div class="m" style="left:406.95px;top:591.724px;">8</div>
<div class="m" style="left:427.19px;top:591.724px;">(8.1)</div>
<div class="m" style="left:474.41px;top:591.724px;">TVA</div>
<div class="m" style="left:514.89px;top:591.724px;">-37.5</div>
<div class="m" style="left:568.86px;top:591.724px;">-128.3</div>
<div class="m" style="left:622.82px;top:591.724px;">Tropo</div>
<div class="m" style="left:670.05px;top:591.724px;">140.6</div>
<div class="m" style="left:724.01px;top:591.724px;color:#c8a018;">61º</div>
<div class="m" style="left:757.74px;top:591.724px;color:#c8a018;">(75º)</div>
<div class="wa" style="top:590.624px;height:11.226px;line-height:10.176px;">a</div>
<div class="wc" style="top:590.624px;height:11.226px;line-height:11.176px;">C</div>
<svg class="abs" style="left:0;top:0;" width="310" height="380" viewBox="0 0 310 380">
<defs><radialGradient id="bands" gradientUnits="userSpaceOnUse" cx="151.5" cy="223.0" r="127.3">
<stop offset="0.0000" stop-color="#ffffff"/>
<stop offset="0.1830" stop-color="#ffffff"/>
<stop offset="0.1909" stop-color="#e0ffe0"/>
<stop offset="0.4792" stop-color="#e0ffe0"/>
<stop offset="0.5538" stop-color="#ffffe4"/>
<stop offset="0.6363" stop-color="#ffffe4"/>
<stop offset="0.7148" stop-color="#ffe2e2"/>
<stop offset="0.7973" stop-color="#ffe2e2"/>
<stop offset="0.8798" stop-color="#e2e2e2"/>
<stop offset="1.0000" stop-color="#e2e2e2"/>
</radialGradient>
<filter id="halo" x="-30%" y="-30%" width="160%" height="160%"><feMorphology in="SourceAlpha" operator="dilate" radius="1.2" result="d"/><feGaussianBlur in="d" stdDeviation="0.45" result="b"/><feFlood flood-color="#fff" flood-opacity="1"/><feComposite in2="b" operator="in" result="h"/><feMerge><feMergeNode in="h"/><feMergeNode in="SourceGraphic"/></feMerge></filter>
</defs>
<path d="M145.3,80.1 A143.0,143.0 0 0 1 157.7,80.1 L157.0,96.8 L146.0,96.8 Z" fill="#ffdfdf" stroke="#ffdfdf" stroke-width="0.6"/>
<path d="M157.7,80.1 A143.0,143.0 0 0 1 170.2,81.2 L168.0,97.8 L157.0,96.8 Z" fill="#ffe2df" stroke="#ffe2df" stroke-width="0.6"/>
<path d="M170.2,81.2 A143.0,143.0 0 0 1 182.5,83.4 L178.8,99.7 L168.0,97.8 Z" fill="#ffe4df" stroke="#ffe4df" stroke-width="0.6"/>
<path d="M182.5,83.4 A143.0,143.0 0 0 1 194.5,86.6 L189.5,102.5 L178.8,99.7 Z" fill="#ffe7df" stroke="#ffe7df" stroke-width="0.6"/>
<path d="M194.5,86.6 A143.0,143.0 0 0 1 206.2,90.9 L199.8,106.3 L189.5,102.5 Z" fill="#ffeadf" stroke="#ffeadf" stroke-width="0.6"/>
<path d="M206.2,90.9 A143.0,143.0 0 0 1 217.5,96.2 L209.8,111.0 L199.8,106.3 Z" fill="#ffecdf" stroke="#ffecdf" stroke-width="0.6"/>
<path d="M217.5,96.2 A143.0,143.0 0 0 1 228.3,102.4 L219.4,116.5 L209.8,111.0 Z" fill="#ffefdf" stroke="#ffefdf" stroke-width="0.6"/>
<path d="M228.3,102.4 A143.0,143.0 0 0 1 238.6,109.6 L228.4,122.8 L219.4,116.5 Z" fill="#fff2df" stroke="#fff2df" stroke-width="0.6"/>
<path d="M238.6,109.6 A143.0,143.0 0 0 1 248.1,117.6 L236.8,129.9 L228.4,122.8 Z" fill="#fff4df" stroke="#fff4df" stroke-width="0.6"/>
<path d="M248.1,117.6 A143.0,143.0 0 0 1 256.9,126.4 L244.6,137.7 L236.8,129.9 Z" fill="#fff7df" stroke="#fff7df" stroke-width="0.6"/>
<path d="M256.9,126.4 A143.0,143.0 0 0 1 264.9,135.9 L251.7,146.1 L244.6,137.7 Z" fill="#fffadf" stroke="#fffadf" stroke-width="0.6"/>
<path d="M264.9,135.9 A143.0,143.0 0 0 1 272.1,146.2 L258.0,155.1 L251.7,146.1 Z" fill="#fffcdf" stroke="#fffcdf" stroke-width="0.6"/>
<path d="M272.1,146.2 A143.0,143.0 0 0 1 278.3,157.0 L263.5,164.7 L258.0,155.1 Z" fill="#ffffdf" stroke="#ffffdf" stroke-width="0.6"/>
<path d="M278.3,157.0 A143.0,143.0 0 0 1 283.6,168.3 L268.2,174.7 L263.5,164.7 Z" fill="#fcffdf" stroke="#fcffdf" stroke-width="0.6"/>
<path d="M283.6,168.3 A143.0,143.0 0 0 1 287.9,180.0 L272.0,185.0 L268.2,174.7 Z" fill="#faffdf" stroke="#faffdf" stroke-width="0.6"/>
<path d="M287.9,180.0 A143.0,143.0 0 0 1 291.1,192.0 L274.8,195.7 L272.0,185.0 Z" fill="#f7ffdf" stroke="#f7ffdf" stroke-width="0.6"/>
<path d="M291.1,192.0 A143.0,143.0 0 0 1 293.3,204.3 L276.7,206.5 L274.8,195.7 Z" fill="#f4ffdf" stroke="#f4ffdf" stroke-width="0.6"/>
<path d="M293.3,204.3 A143.0,143.0 0 0 1 294.4,216.8 L277.7,217.5 L276.7,206.5 Z" fill="#f2ffdf" stroke="#f2ffdf" stroke-width="0.6"/>
<path d="M294.4,216.8 A143.0,143.0 0 0 1 294.4,229.2 L277.7,228.5 L277.7,217.5 Z" fill="#efffdf" stroke="#efffdf" stroke-width="0.6"/>
<path d="M294.4,229.2 A143.0,143.0 0 0 1 293.3,241.7 L276.7,239.5 L277.7,228.5 Z" fill="#ecffdf" stroke="#ecffdf" stroke-width="0.6"/>
<path d="M293.3,241.7 A143.0,143.0 0 0 1 291.1,254.0 L274.8,250.3 L276.7,239.5 Z" fill="#eaffdf" stroke="#eaffdf" stroke-width="0.6"/>
<path d="M291.1,254.0 A143.0,143.0 0 0 1 287.9,266.0 L272.0,261.0 L274.8,250.3 Z" fill="#e7ffdf" stroke="#e7ffdf" stroke-width="0.6"/>
<path d="M287.9,266.0 A143.0,143.0 0 0 1 283.6,277.7 L268.2,271.3 L272.0,261.0 Z" fill="#e4ffdf" stroke="#e4ffdf" stroke-width="0.6"/>
<path d="M283.6,277.7 A143.0,143.0 0 0 1 278.3,289.0 L263.5,281.3 L268.2,271.3 Z" fill="#e2ffdf" stroke="#e2ffdf" stroke-width="0.6"/>
<path d="M278.3,289.0 A143.0,143.0 0 0 1 272.1,299.8 L258.0,290.9 L263.5,281.3 Z" fill="#dfffdf" stroke="#dfffdf" stroke-width="0.6"/>
<path d="M272.1,299.8 A143.0,143.0 0 0 1 264.9,310.1 L251.7,299.9 L258.0,290.9 Z" fill="#dfffe2" stroke="#dfffe2" stroke-width="0.6"/>
<path d="M264.9,310.1 A143.0,143.0 0 0 1 256.9,319.6 L244.6,308.3 L251.7,299.9 Z" fill="#dfffe4" stroke="#dfffe4" stroke-width="0.6"/>
<path d="M256.9,319.6 A143.0,143.0 0 0 1 248.1,328.4 L236.8,316.1 L244.6,308.3 Z" fill="#dfffe7" stroke="#dfffe7" stroke-width="0.6"/>
<path d="M248.1,328.4 A143.0,143.0 0 0 1 238.6,336.4 L228.4,323.2 L236.8,316.1 Z" fill="#dfffea" stroke="#dfffea" stroke-width="0.6"/>
<path d="M238.6,336.4 A143.0,143.0 0 0 1 228.3,343.6 L219.4,329.5 L228.4,323.2 Z" fill="#dfffec" stroke="#dfffec" stroke-width="0.6"/>
<path d="M228.3,343.6 A143.0,143.0 0 0 1 217.5,349.8 L209.8,335.0 L219.4,329.5 Z" fill="#dfffef" stroke="#dfffef" stroke-width="0.6"/>
<path d="M217.5,349.8 A143.0,143.0 0 0 1 206.2,355.1 L199.8,339.7 L209.8,335.0 Z" fill="#dffff2" stroke="#dffff2" stroke-width="0.6"/>
<path d="M206.2,355.1 A143.0,143.0 0 0 1 194.5,359.4 L189.5,343.5 L199.8,339.7 Z" fill="#dffff4" stroke="#dffff4" stroke-width="0.6"/>
<path d="M194.5,359.4 A143.0,143.0 0 0 1 182.5,362.6 L178.8,346.3 L189.5,343.5 Z" fill="#dffff7" stroke="#dffff7" stroke-width="0.6"/>
<path d="M182.5,362.6 A143.0,143.0 0 0 1 170.2,364.8 L168.0,348.2 L178.8,346.3 Z" fill="#dffffa" stroke="#dffffa" stroke-width="0.6"/>
<path d="M170.2,364.8 A143.0,143.0 0 0 1 157.7,365.9 L157.0,349.2 L168.0,348.2 Z" fill="#dffffc" stroke="#dffffc" stroke-width="0.6"/>
<path d="M157.7,365.9 A143.0,143.0 0 0 1 145.3,365.9 L146.0,349.2 L157.0,349.2 Z" fill="#dfffff" stroke="#dfffff" stroke-width="0.6"/>
<path d="M145.3,365.9 A143.0,143.0 0 0 1 132.8,364.8 L135.0,348.2 L146.0,349.2 Z" fill="#dffcff" stroke="#dffcff" stroke-width="0.6"/>
<path d="M132.8,364.8 A143.0,143.0 0 0 1 120.5,362.6 L124.2,346.3 L135.0,348.2 Z" fill="#dffaff" stroke="#dffaff" stroke-width="0.6"/>
<path d="M120.5,362.6 A143.0,143.0 0 0 1 108.5,359.4 L113.5,343.5 L124.2,346.3 Z" fill="#dff7ff" stroke="#dff7ff" stroke-width="0.6"/>
<path d="M108.5,359.4 A143.0,143.0 0 0 1 96.8,355.1 L103.2,339.7 L113.5,343.5 Z" fill="#dff4ff" stroke="#dff4ff" stroke-width="0.6"/>
<path d="M96.8,355.1 A143.0,143.0 0 0 1 85.5,349.8 L93.2,335.0 L103.2,339.7 Z" fill="#dff2ff" stroke="#dff2ff" stroke-width="0.6"/>
<path d="M85.5,349.8 A143.0,143.0 0 0 1 74.7,343.6 L83.6,329.5 L93.2,335.0 Z" fill="#dfefff" stroke="#dfefff" stroke-width="0.6"/>
<path d="M74.7,343.6 A143.0,143.0 0 0 1 64.4,336.4 L74.6,323.2 L83.6,329.5 Z" fill="#dfecff" stroke="#dfecff" stroke-width="0.6"/>
<path d="M64.4,336.4 A143.0,143.0 0 0 1 54.9,328.4 L66.2,316.1 L74.6,323.2 Z" fill="#dfeaff" stroke="#dfeaff" stroke-width="0.6"/>
<path d="M54.9,328.4 A143.0,143.0 0 0 1 46.1,319.6 L58.4,308.3 L66.2,316.1 Z" fill="#dfe7ff" stroke="#dfe7ff" stroke-width="0.6"/>
<path d="M46.1,319.6 A143.0,143.0 0 0 1 38.1,310.1 L51.3,299.9 L58.4,308.3 Z" fill="#dfe4ff" stroke="#dfe4ff" stroke-width="0.6"/>
<path d="M38.1,310.1 A143.0,143.0 0 0 1 30.9,299.8 L45.0,290.9 L51.3,299.9 Z" fill="#dfe2ff" stroke="#dfe2ff" stroke-width="0.6"/>
<path d="M30.9,299.8 A143.0,143.0 0 0 1 24.7,289.0 L39.5,281.3 L45.0,290.9 Z" fill="#dfdfff" stroke="#dfdfff" stroke-width="0.6"/>
<path d="M24.7,289.0 A143.0,143.0 0 0 1 19.4,277.7 L34.8,271.3 L39.5,281.3 Z" fill="#e2dfff" stroke="#e2dfff" stroke-width="0.6"/>
<path d="M19.4,277.7 A143.0,143.0 0 0 1 15.1,266.0 L31.0,261.0 L34.8,271.3 Z" fill="#e4dfff" stroke="#e4dfff" stroke-width="0.6"/>
<path d="M15.1,266.0 A143.0,143.0 0 0 1 11.9,254.0 L28.2,250.3 L31.0,261.0 Z" fill="#e7dfff" stroke="#e7dfff" stroke-width="0.6"/>
<path d="M11.9,254.0 A143.0,143.0 0 0 1 9.7,241.7 L26.3,239.5 L28.2,250.3 Z" fill="#eadfff" stroke="#eadfff" stroke-width="0.6"/>
<path d="M9.7,241.7 A143.0,143.0 0 0 1 8.6,229.2 L25.3,228.5 L26.3,239.5 Z" fill="#ecdfff" stroke="#ecdfff" stroke-width="0.6"/>
<path d="M8.6,229.2 A143.0,143.0 0 0 1 8.6,216.8 L25.3,217.5 L25.3,228.5 Z" fill="#efdfff" stroke="#efdfff" stroke-width="0.6"/>
<path d="M8.6,216.8 A143.0,143.0 0 0 1 9.7,204.3 L26.3,206.5 L25.3,217.5 Z" fill="#f2dfff" stroke="#f2dfff" stroke-width="0.6"/>
<path d="M9.7,204.3 A143.0,143.0 0 0 1 11.9,192.0 L28.2,195.7 L26.3,206.5 Z" fill="#f4dfff" stroke="#f4dfff" stroke-width="0.6"/>
<path d="M11.9,192.0 A143.0,143.0 0 0 1 15.1,180.0 L31.0,185.0 L28.2,195.7 Z" fill="#f7dfff" stroke="#f7dfff" stroke-width="0.6"/>
<path d="M15.1,180.0 A143.0,143.0 0 0 1 19.4,168.3 L34.8,174.7 L31.0,185.0 Z" fill="#fadfff" stroke="#fadfff" stroke-width="0.6"/>
<path d="M19.4,168.3 A143.0,143.0 0 0 1 24.7,157.0 L39.5,164.7 L34.8,174.7 Z" fill="#fcdfff" stroke="#fcdfff" stroke-width="0.6"/>
<path d="M24.7,157.0 A143.0,143.0 0 0 1 30.9,146.2 L45.0,155.1 L39.5,164.7 Z" fill="#ffdfff" stroke="#ffdfff" stroke-width="0.6"/>
<path d="M30.9,146.2 A143.0,143.0 0 0 1 38.1,135.9 L51.3,146.1 L45.0,155.1 Z" fill="#ffdffc" stroke="#ffdffc" stroke-width="0.6"/>
<path d="M38.1,135.9 A143.0,143.0 0 0 1 46.1,126.4 L58.4,137.7 L51.3,146.1 Z" fill="#ffdffa" stroke="#ffdffa" stroke-width="0.6"/>
<path d="M46.1,126.4 A143.0,143.0 0 0 1 54.9,117.6 L66.2,129.9 L58.4,137.7 Z" fill="#ffdff7" stroke="#ffdff7" stroke-width="0.6"/>
<path d="M54.9,117.6 A143.0,143.0 0 0 1 64.4,109.6 L74.6,122.8 L66.2,129.9 Z" fill="#ffdff4" stroke="#ffdff4" stroke-width="0.6"/>
<path d="M64.4,109.6 A143.0,143.0 0 0 1 74.7,102.4 L83.6,116.5 L74.6,122.8 Z" fill="#ffdff2" stroke="#ffdff2" stroke-width="0.6"/>
<path d="M74.7,102.4 A143.0,143.0 0 0 1 85.5,96.2 L93.2,111.0 L83.6,116.5 Z" fill="#ffdfef" stroke="#ffdfef" stroke-width="0.6"/>
<path d="M85.5,96.2 A143.0,143.0 0 0 1 96.8,90.9 L103.2,106.3 L93.2,111.0 Z" fill="#ffdfec" stroke="#ffdfec" stroke-width="0.6"/>
<path d="M96.8,90.9 A143.0,143.0 0 0 1 108.5,86.6 L113.5,102.5 L103.2,106.3 Z" fill="#ffdfea" stroke="#ffdfea" stroke-width="0.6"/>
<path d="M108.5,86.6 A143.0,143.0 0 0 1 120.5,83.4 L124.2,99.7 L113.5,102.5 Z" fill="#ffdfe7" stroke="#ffdfe7" stroke-width="0.6"/>
<path d="M120.5,83.4 A143.0,143.0 0 0 1 132.8,81.2 L135.0,97.8 L124.2,99.7 Z" fill="#ffdfe4" stroke="#ffdfe4" stroke-width="0.6"/>
<path d="M132.8,81.2 A143.0,143.0 0 0 1 145.3,80.1 L146.0,96.8 L135.0,97.8 Z" fill="#ffdfe2" stroke="#ffdfe2" stroke-width="0.6"/>
<circle cx="151.5" cy="223.0" r="127.3" fill="url(#bands)"/>
<circle cx="151.5" cy="223.0" r="23.8" fill="none" stroke="#404040" stroke-width="0.62"/>
<circle cx="151.5" cy="223.0" r="44.5" fill="none" stroke="#404040" stroke-width="0.62"/>
<circle cx="151.5" cy="223.0" r="65.2" fill="none" stroke="#404040" stroke-width="0.62"/>
<circle cx="151.5" cy="223.0" r="85.9" fill="none" stroke="#404040" stroke-width="0.62"/>
<circle cx="151.5" cy="223.0" r="106.6" fill="none" stroke="#404040" stroke-width="0.62"/>
<circle cx="151.5" cy="223.0" r="127.3" fill="none" stroke="#404040" stroke-width="0.62"/>
<path d="M140.4,96.2 A127.3,127.3 0 0 1 163.3,96.2" fill="none" stroke="#6b3030" stroke-width="0.8"/>
<path d="M162.6,96.2 A127.3,127.3 0 0 1 185.1,100.2" fill="none" stroke="#6b3a30" stroke-width="0.8"/>
<path d="M184.4,100.0 A127.3,127.3 0 0 1 205.9,107.9" fill="none" stroke="#6b4430" stroke-width="0.8"/>
<path d="M205.3,107.6 A127.3,127.3 0 0 1 225.1,119.1" fill="none" stroke="#6b4e30" stroke-width="0.8"/>
<path d="M224.5,118.7 A127.3,127.3 0 0 1 242.0,133.5" fill="none" stroke="#6b5730" stroke-width="0.8"/>
<path d="M241.5,133.0 A127.3,127.3 0 0 1 256.2,150.5" fill="none" stroke="#6b6130" stroke-width="0.8"/>
<path d="M255.8,150.0 A127.3,127.3 0 0 1 267.2,169.8" fill="none" stroke="#6b6b30" stroke-width="0.8"/>
<path d="M266.9,169.2 A127.3,127.3 0 0 1 274.6,190.7" fill="none" stroke="#616b30" stroke-width="0.8"/>
<path d="M274.5,190.1 A127.3,127.3 0 0 1 278.4,212.6" fill="none" stroke="#576b30" stroke-width="0.8"/>
<path d="M278.3,211.9 A127.3,127.3 0 0 1 278.3,234.8" fill="none" stroke="#4e6b30" stroke-width="0.8"/>
<path d="M278.3,234.1 A127.3,127.3 0 0 1 274.3,256.6" fill="none" stroke="#446b30" stroke-width="0.8"/>
<path d="M274.5,255.9 A127.3,127.3 0 0 1 266.6,277.4" fill="none" stroke="#3a6b30" stroke-width="0.8"/>
<path d="M266.9,276.8 A127.3,127.3 0 0 1 255.4,296.6" fill="none" stroke="#306b30" stroke-width="0.8"/>
<path d="M255.8,296.0 A127.3,127.3 0 0 1 241.0,313.5" fill="none" stroke="#306b3a" stroke-width="0.8"/>
<path d="M241.5,313.0 A127.3,127.3 0 0 1 224.0,327.7" fill="none" stroke="#306b44" stroke-width="0.8"/>
<path d="M224.5,327.3 A127.3,127.3 0 0 1 204.7,338.7" fill="none" stroke="#306b4e" stroke-width="0.8"/>
<path d="M205.3,338.4 A127.3,127.3 0 0 1 183.8,346.1" fill="none" stroke="#306b57" stroke-width="0.8"/>
<path d="M184.4,346.0 A127.3,127.3 0 0 1 161.9,349.9" fill="none" stroke="#306b61" stroke-width="0.8"/>
<path d="M162.6,349.8 A127.3,127.3 0 0 1 139.7,349.8" fill="none" stroke="#306b6b" stroke-width="0.8"/>
<path d="M140.4,349.8 A127.3,127.3 0 0 1 117.9,345.8" fill="none" stroke="#30616b" stroke-width="0.8"/>
<path d="M118.6,346.0 A127.3,127.3 0 0 1 97.1,338.1" fill="none" stroke="#30576b" stroke-width="0.8"/>
<path d="M97.7,338.4 A127.3,127.3 0 0 1 77.9,326.9" fill="none" stroke="#304e6b" stroke-width="0.8"/>
<path d="M78.5,327.3 A127.3,127.3 0 0 1 61.0,312.5" fill="none" stroke="#30446b" stroke-width="0.8"/>
<path d="M61.5,313.0 A127.3,127.3 0 0 1 46.8,295.5" fill="none" stroke="#303a6b" stroke-width="0.8"/>
<path d="M47.2,296.0 A127.3,127.3 0 0 1 35.8,276.2" fill="none" stroke="#30306b" stroke-width="0.8"/>
<path d="M36.1,276.8 A127.3,127.3 0 0 1 28.4,255.3" fill="none" stroke="#3a306b" stroke-width="0.8"/>
<path d="M28.5,255.9 A127.3,127.3 0 0 1 24.6,233.4" fill="none" stroke="#44306b" stroke-width="0.8"/>
<path d="M24.7,234.1 A127.3,127.3 0 0 1 24.7,211.2" fill="none" stroke="#4e306b" stroke-width="0.8"/>
<path d="M24.7,211.9 A127.3,127.3 0 0 1 28.7,189.4" fill="none" stroke="#57306b" stroke-width="0.8"/>
<path d="M28.5,190.1 A127.3,127.3 0 0 1 36.4,168.6" fill="none" stroke="#61306b" stroke-width="0.8"/>
<path d="M36.1,169.2 A127.3,127.3 0 0 1 47.6,149.4" fill="none" stroke="#6b306b" stroke-width="0.8"/>
<path d="M47.2,150.0 A127.3,127.3 0 0 1 62.0,132.5" fill="none" stroke="#6b3061" stroke-width="0.8"/>
<path d="M61.5,133.0 A127.3,127.3 0 0 1 79.0,118.3" fill="none" stroke="#6b3057" stroke-width="0.8"/>
<path d="M78.5,118.7 A127.3,127.3 0 0 1 98.3,107.3" fill="none" stroke="#6b304e" stroke-width="0.8"/>
<path d="M97.7,107.6 A127.3,127.3 0 0 1 119.2,99.9" fill="none" stroke="#6b3044" stroke-width="0.8"/>
<path d="M118.6,100.0 A127.3,127.3 0 0 1 141.1,96.1" fill="none" stroke="#6b303a" stroke-width="0.8"/>
<line x1="151.5" y1="79" x2="151.5" y2="369" stroke="#1a1a1a" stroke-width="1" stroke-dasharray="1,1"/>
<line x1="7" y1="223.0" x2="297" y2="223.0" stroke="#1a1a1a" stroke-width="1" stroke-dasharray="1,1"/>
<text x="124.5" y="97.5" font-family="Liberation Sans" font-size="10.5" fill="#d01010" text-anchor="middle">N</text>
<polygon points="89.5,226.8 24.2,232.2 25.4,242.7 90.3,233.2" fill="#f6f020" stroke="#f6f020" stroke-width="1.5" stroke-linejoin="round"/>
<line x1="271.0" y1="227.2" x2="280.3" y2="227.5" stroke="#f4ee20" stroke-width="9.8" stroke-linecap="round"/>
<line x1="272.1" y1="227.2" x2="280.3" y2="227.5" stroke="#f4ee20" stroke-width="9.8" stroke-linecap="round"/>
<line x1="124.2" y1="341.1" x2="122.5" y2="348.6" stroke="#f4ee20" stroke-width="9.8" stroke-linecap="round"/>
<line x1="100.5" y1="228.8" x2="24.2" y2="237.5" stroke="#fff" stroke-opacity="0.7" stroke-width="4.8"/>
<line x1="98.3" y1="229.1" x2="24.2" y2="237.5" stroke="#fff" stroke-opacity="0.7" stroke-width="4.8"/>
<line x1="95.7" y1="229.4" x2="24.2" y2="237.5" stroke="#fff" stroke-opacity="0.7" stroke-width="4.8"/>
<line x1="93.4" y1="229.6" x2="24.2" y2="237.5" stroke="#fff" stroke-opacity="0.7" stroke-width="4.8"/>
<line x1="93.1" y1="229.7" x2="24.2" y2="237.5" stroke="#fff" stroke-opacity="0.7" stroke-width="4.8"/>
<line x1="92.8" y1="229.7" x2="24.2" y2="237.5" stroke="#fff" stroke-opacity="0.7" stroke-width="4.8"/>
<line x1="91.5" y1="229.8" x2="24.2" y2="237.5" stroke="#fff" stroke-opacity="0.7" stroke-width="4.8"/>
<line x1="87.9" y1="230.2" x2="24.2" y2="237.5" stroke="#fff" stroke-opacity="0.7" stroke-width="4.8"/>
<line x1="86.8" y1="230.4" x2="24.2" y2="237.5" stroke="#fff" stroke-opacity="0.7" stroke-width="4.8"/>
<line x1="112.3" y1="277.0" x2="76.2" y2="326.6" stroke="#fff" stroke-opacity="0.7" stroke-width="4.8"/>
<line x1="78.4" y1="231.3" x2="24.2" y2="237.5" stroke="#fff" stroke-opacity="0.7" stroke-width="4.8"/>
<line x1="108.2" y1="282.6" x2="76.2" y2="326.6" stroke="#fff" stroke-opacity="0.7" stroke-width="4.8"/>
<line x1="75.2" y1="231.7" x2="24.2" y2="237.5" stroke="#fff" stroke-opacity="0.7" stroke-width="4.8"/>
<line x1="104.5" y1="287.7" x2="76.2" y2="326.6" stroke="#fff" stroke-opacity="0.7" stroke-width="4.8"/>
<line x1="103.4" y1="289.2" x2="76.2" y2="326.6" stroke="#fff" stroke-opacity="0.7" stroke-width="4.8"/>
<line x1="103.1" y1="289.7" x2="76.2" y2="326.6" stroke="#fff" stroke-opacity="0.7" stroke-width="4.8"/>
<line x1="103.1" y1="289.7" x2="76.2" y2="326.6" stroke="#fff" stroke-opacity="0.7" stroke-width="4.8"/>
<line x1="99.8" y1="294.2" x2="76.2" y2="326.6" stroke="#fff" stroke-opacity="0.7" stroke-width="4.8"/>
<line x1="217.7" y1="282.6" x2="246.7" y2="308.7" stroke="#fff" stroke-opacity="0.7" stroke-width="4.8"/>
<line x1="175.4" y1="318.9" x2="182.5" y2="347.3" stroke="#fff" stroke-opacity="0.7" stroke-width="4.8"/>
<line x1="57.3" y1="262.2" x2="33.2" y2="272.2" stroke="#fff" stroke-opacity="0.7" stroke-width="4.8"/>
<line x1="55.8" y1="258.6" x2="31.4" y2="267.7" stroke="#fff" stroke-opacity="0.7" stroke-width="4.8"/>
<line x1="54.9" y1="274.3" x2="38.4" y2="283.1" stroke="#fff" stroke-opacity="0.7" stroke-width="4.8"/>
<line x1="178.3" y1="330.3" x2="182.5" y2="347.3" stroke="#fff" stroke-opacity="0.7" stroke-width="4.8"/>
<line x1="47.0" y1="261.9" x2="31.4" y2="267.7" stroke="#fff" stroke-opacity="0.7" stroke-width="4.8"/>
<line x1="45.8" y1="267.0" x2="33.2" y2="272.2" stroke="#fff" stroke-opacity="0.7" stroke-width="4.8"/>
<line x1="270.6" y1="227.2" x2="279.5" y2="227.5" stroke="#fff" stroke-opacity="0.7" stroke-width="4.8"/>
<line x1="271.0" y1="227.2" x2="279.5" y2="227.5" stroke="#fff" stroke-opacity="0.7" stroke-width="4.8"/>
<line x1="271.8" y1="227.2" x2="279.5" y2="227.5" stroke="#fff" stroke-opacity="0.7" stroke-width="7.4"/>
<line x1="272.9" y1="227.2" x2="279.5" y2="227.5" stroke="#fff" stroke-opacity="0.7" stroke-width="7.4"/>
<line x1="124.1" y1="341.9" x2="122.7" y2="347.8" stroke="#fff" stroke-opacity="0.7" stroke-width="7.4"/>
<line x1="275.8" y1="220.8" x2="279.6" y2="220.8" stroke="#fff" stroke-opacity="0.7" stroke-width="4.8"/>
<line x1="278.2" y1="227.4" x2="279.5" y2="227.5" stroke="#fff" stroke-opacity="0.7" stroke-width="4.8"/>
<line x1="261.3" y1="286.4" x2="262.4" y2="287.0" stroke="#fff" stroke-opacity="0.7" stroke-width="4.8"/>
<line x1="278.2" y1="227.4" x2="279.5" y2="227.5" stroke="#fff" stroke-opacity="0.7" stroke-width="4.8"/>
<line x1="100.5" y1="228.8" x2="24.2" y2="237.5" stroke="#1050c0" stroke-width="3.2"/>
<line x1="98.3" y1="229.1" x2="24.2" y2="237.5" stroke="#1050c0" stroke-width="3.2"/>
<line x1="95.7" y1="229.4" x2="24.2" y2="237.5" stroke="#1050c0" stroke-width="3.2"/>
<line x1="93.4" y1="229.6" x2="24.2" y2="237.5" stroke="#1050c0" stroke-width="3.2"/>
<line x1="93.1" y1="229.7" x2="24.2" y2="237.5" stroke="#1050c0" stroke-width="3.2"/>
<line x1="92.8" y1="229.7" x2="24.2" y2="237.5" stroke="#1050c0" stroke-width="3.2" stroke-linecap="round"/>
<line x1="91.5" y1="229.8" x2="24.2" y2="237.5" stroke="#1050c0" stroke-width="3.2"/>
<line x1="87.9" y1="230.2" x2="24.2" y2="237.5" stroke="#1050c0" stroke-width="3.2"/>
<line x1="86.8" y1="230.4" x2="24.2" y2="237.5" stroke="#1050c0" stroke-width="3.2" stroke-linecap="round"/>
<line x1="112.3" y1="277.0" x2="76.2" y2="326.6" stroke="#1050c0" stroke-width="3.2"/>
<line x1="78.4" y1="231.3" x2="24.2" y2="237.5" stroke="#1050c0" stroke-width="3.2" stroke-linecap="round"/>
<line x1="108.2" y1="282.6" x2="76.2" y2="326.6" stroke="#1050c0" stroke-width="3.2"/>
<line x1="75.2" y1="231.7" x2="24.2" y2="237.5" stroke="#1050c0" stroke-width="3.2"/>
<line x1="104.5" y1="287.7" x2="76.2" y2="326.6" stroke="#1050c0" stroke-width="3.2"/>
<line x1="103.4" y1="289.2" x2="76.2" y2="326.6" stroke="#1050c0" stroke-width="3.2"/>
<line x1="103.1" y1="289.7" x2="76.2" y2="326.6" stroke="#1050c0" stroke-width="3.2"/>
<line x1="103.1" y1="289.7" x2="76.2" y2="326.6" stroke="#1050c0" stroke-width="3.2"/>
<line x1="99.8" y1="294.2" x2="76.2" y2="326.6" stroke="#1050c0" stroke-width="3.2"/>
<line x1="217.7" y1="282.6" x2="246.7" y2="308.7" stroke="#1050c0" stroke-width="3.2"/>
<line x1="175.4" y1="318.9" x2="182.5" y2="347.3" stroke="#1050c0" stroke-width="3.2"/>
<line x1="57.3" y1="262.2" x2="33.2" y2="272.2" stroke="#1050c0" stroke-width="3.2"/>
<line x1="55.8" y1="258.6" x2="31.4" y2="267.7" stroke="#1050c0" stroke-width="3.2"/>
<line x1="54.9" y1="274.3" x2="38.4" y2="283.1" stroke="#1050c0" stroke-width="3.2"/>
<line x1="178.3" y1="330.3" x2="182.5" y2="347.3" stroke="#1050c0" stroke-width="3.2"/>
<line x1="47.0" y1="261.9" x2="31.4" y2="267.7" stroke="#1050c0" stroke-width="3.2"/>
<line x1="45.8" y1="267.0" x2="33.2" y2="272.2" stroke="#1050c0" stroke-width="3.2"/>
<line x1="270.6" y1="227.2" x2="279.5" y2="227.5" stroke="#1050c0" stroke-width="3.2"/>
<line x1="271.0" y1="227.2" x2="279.5" y2="227.5" stroke="#1050c0" stroke-width="3.2"/>
<line x1="271.8" y1="227.2" x2="279.5" y2="227.5" stroke="#1050c0" stroke-width="5.8" stroke-linecap="round"/>
<line x1="272.9" y1="227.2" x2="279.5" y2="227.5" stroke="#1050c0" stroke-width="5.8" stroke-linecap="round"/>
<line x1="124.1" y1="341.9" x2="122.7" y2="347.8" stroke="#1050c0" stroke-width="5.8" stroke-linecap="round"/>
<line x1="274.8" y1="220.8" x2="280.8" y2="220.7" stroke="#1050c0" stroke-width="3.2"/>
<line x1="278.2" y1="227.4" x2="279.5" y2="227.5" stroke="#1050c0" stroke-width="3.2"/>
<line x1="261.3" y1="286.4" x2="262.4" y2="287.0" stroke="#1050c0" stroke-width="3.2"/>
<line x1="278.2" y1="227.4" x2="279.5" y2="227.5" stroke="#1050c0" stroke-width="3.2"/>
<g font-family="Liberation Sans" font-size="11" fill="#1058d2" stroke="#1058d2" stroke-width="0.05" text-anchor="middle" letter-spacing="0.2">
<text x="17.6" y="242.5" stroke="#fff" stroke-width="2.3" stroke-linejoin="round" fill="#fff" stroke-opacity="0.95">34</text><text x="17.6" y="242.5">34</text>
<text x="24.6" y="241.7" stroke="#fff" stroke-width="2.3" stroke-linejoin="round" fill="#fff" stroke-opacity="0.95">40</text><text x="24.6" y="241.7">40</text>
<text x="37.1" y="240.2" stroke="#fff" stroke-width="2.3" stroke-linejoin="round" fill="#fff" stroke-opacity="0.95">13</text><text x="37.1" y="240.2">13</text>
<text x="51.8" y="238.7" stroke="#fff" stroke-width="2.3" stroke-linejoin="round" fill="#fff" stroke-opacity="0.95">14</text><text x="51.8" y="238.7">14</text>
<text x="66.1" y="237.2" stroke="#fff" stroke-width="2.3" stroke-linejoin="round" fill="#fff" stroke-opacity="0.95">24</text><text x="66.1" y="237.2">24</text>
<text x="81.1" y="235.7" stroke="#fff" stroke-width="2.3" stroke-linejoin="round" fill="#fff" stroke-opacity="0.95">25</text><text x="81.1" y="235.7">25</text>
<text x="94.6" y="233.7" stroke="#fff" stroke-width="2.3" stroke-linejoin="round" fill="#fff" stroke-opacity="0.95">30</text><text x="94.6" y="233.7">30</text>
<text x="109.6" y="232.2" stroke="#fff" stroke-width="2.3" stroke-linejoin="round" fill="#fff" stroke-opacity="0.95">33</text><text x="109.6" y="232.2">33</text>
<text x="37.3" y="268.7" stroke="#fff" stroke-width="2.3" stroke-linejoin="round" fill="#fff" stroke-opacity="0.95">46</text><text x="37.3" y="268.7">46</text>
<text x="51.1" y="265.2" stroke="#fff" stroke-width="2.3" stroke-linejoin="round" fill="#fff" stroke-opacity="0.95">46</text><text x="51.1" y="265.2">46</text>
<text x="65.3" y="263.0" stroke="#fff" stroke-width="2.3" stroke-linejoin="round" fill="#fff" stroke-opacity="0.95">46</text><text x="65.3" y="263.0">46</text>
<text x="26.8" y="278.7" stroke="#fff" stroke-width="2.3" stroke-linejoin="round" fill="#fff" stroke-opacity="0.95">51</text><text x="26.8" y="278.7">51</text>
<text x="63.8" y="275.0" stroke="#fff" stroke-width="2.3" stroke-linejoin="round" fill="#fff" stroke-opacity="0.95">46</text><text x="63.8" y="275.0">46</text>
<text x="72.6" y="337.7" stroke="#fff" stroke-width="2.3" stroke-linejoin="round" fill="#fff" stroke-opacity="0.95">43</text><text x="72.6" y="337.7">43</text>
<text x="76.3" y="332.5" stroke="#fff" stroke-width="2.3" stroke-linejoin="round" fill="#fff" stroke-opacity="0.95">27</text><text x="76.3" y="332.5">27</text>
<text x="84.3" y="320.9" stroke="#fff" stroke-width="2.3" stroke-linejoin="round" fill="#fff" stroke-opacity="0.95">27</text><text x="84.3" y="320.9">27</text>
<text x="92.5" y="309.5" stroke="#fff" stroke-width="2.3" stroke-linejoin="round" fill="#fff" stroke-opacity="0.95">20</text><text x="92.5" y="309.5">20</text>
<text x="101.4" y="297.7" stroke="#fff" stroke-width="2.3" stroke-linejoin="round" fill="#fff" stroke-opacity="0.95">42</text><text x="101.4" y="297.7">42</text>
<text x="109.3" y="286.0" stroke="#fff" stroke-width="2.3" stroke-linejoin="round" fill="#fff" stroke-opacity="0.95">17</text><text x="109.3" y="286.0">17</text>
<text x="118.3" y="274.7" stroke="#fff" stroke-width="2.3" stroke-linejoin="round" fill="#fff" stroke-opacity="0.95">22</text><text x="118.3" y="274.7">22</text>
<text x="126.1" y="337.7" stroke="#fff" stroke-width="2.3" stroke-linejoin="round" fill="#fff" stroke-opacity="0.95">7</text><text x="126.1" y="337.7">7</text>
<text x="173.4" y="315.4" stroke="#fff" stroke-width="2.3" stroke-linejoin="round" fill="#fff" stroke-opacity="0.95">23</text><text x="173.4" y="315.4">23</text>
<text x="177.1" y="328.9" stroke="#fff" stroke-width="2.3" stroke-linejoin="round" fill="#fff" stroke-opacity="0.95">18</text><text x="177.1" y="328.9">18</text>
<text x="212.1" y="281.0" stroke="#fff" stroke-width="2.3" stroke-linejoin="round" fill="#fff" stroke-opacity="0.95">38</text><text x="212.1" y="281.0">38</text>
<text x="255.3" y="287.2" stroke="#fff" stroke-width="2.3" stroke-linejoin="round" fill="#fff" stroke-opacity="0.95">22</text><text x="255.3" y="287.2">22</text>
<text x="262.1" y="231.4" stroke="#fff" stroke-width="2.3" stroke-linejoin="round" fill="#fff" stroke-opacity="0.95">19</text><text x="262.1" y="231.4">19</text>
<text x="288.1" y="224.1" stroke="#fff" stroke-width="2.3" stroke-linejoin="round" fill="#fff" stroke-opacity="0.95">26</text><text x="288.1" y="224.1">26</text>
<text x="275.3" y="231.5" stroke="#fff" stroke-width="2.3" stroke-linejoin="round" fill="#fff" stroke-opacity="0.95">21</text><text x="275.3" y="231.5">21</text>
<text x="288.1" y="231.9" stroke="#fff" stroke-width="2.3" stroke-linejoin="round" fill="#fff" stroke-opacity="0.95">10</text><text x="288.1" y="231.9">10</text>
</g>
</svg>
<svg class="abs" style="left:0;top:600px;" width="800" height="168" viewBox="0 600 800 168">
<defs><filter id="halo2" x="-30%" y="-30%" width="160%" height="160%"><feMorphology in="SourceAlpha" operator="dilate" radius="1.1" result="d"/><feGaussianBlur in="d" stdDeviation="0.4" result="b"/><feFlood flood-color="#fff" flood-opacity="0.9"/><feComposite in2="b" operator="in" result="h"/><feMerge><feMergeNode in="h"/><feMergeNode in="SourceGraphic"/></feMerge></filter></defs>
<rect x="39.2" y="633" width="10" height="127" fill="#e6e6e6"/>
<rect x="70" y="633" width="31.2" height="127" fill="#e6e6e6"/>
<line x1="9" y1="645.50" x2="173" y2="645.50" stroke="#484848" stroke-width="0.85" stroke-dasharray="0.95,0.9"/>
<line x1="216" y1="645.50" x2="792" y2="645.50" stroke="#484848" stroke-width="0.85" stroke-dasharray="0.95,0.9"/>
<text x="202" y="648.4" font-family="Liberation Sans" font-size="10.9" fill="#111" text-anchor="end">-10</text>
<line x1="9" y1="658.50" x2="173" y2="658.50" stroke="#484848" stroke-width="0.85" stroke-dasharray="0.95,0.9"/>
<line x1="216" y1="658.50" x2="792" y2="658.50" stroke="#484848" stroke-width="0.85" stroke-dasharray="0.95,0.9"/>
<text x="202" y="661.1" font-family="Liberation Sans" font-size="10.9" fill="#111" text-anchor="end">-20</text>
<line x1="9" y1="670.50" x2="173" y2="670.50" stroke="#484848" stroke-width="0.85" stroke-dasharray="0.95,0.9"/>
<line x1="216" y1="670.50" x2="792" y2="670.50" stroke="#484848" stroke-width="0.85" stroke-dasharray="0.95,0.9"/>
<text x="202" y="673.9" font-family="Liberation Sans" font-size="10.9" fill="#111" text-anchor="end">-30</text>
<line x1="9" y1="683.50" x2="173" y2="683.50" stroke="#484848" stroke-width="0.85" stroke-dasharray="0.95,0.9"/>
<line x1="216" y1="683.50" x2="792" y2="683.50" stroke="#484848" stroke-width="0.85" stroke-dasharray="0.95,0.9"/>
<text x="202" y="686.6" font-family="Liberation Sans" font-size="10.9" fill="#111" text-anchor="end">-40</text>
<line x1="9" y1="696.50" x2="173" y2="696.50" stroke="#484848" stroke-width="0.85" stroke-dasharray="0.95,0.9"/>
<line x1="216" y1="696.50" x2="792" y2="696.50" stroke="#484848" stroke-width="0.85" stroke-dasharray="0.95,0.9"/>
<text x="202" y="699.4" font-family="Liberation Sans" font-size="10.9" fill="#111" text-anchor="end">-50</text>
<line x1="9" y1="709.50" x2="173" y2="709.50" stroke="#484848" stroke-width="0.85" stroke-dasharray="0.95,0.9"/>
<line x1="216" y1="709.50" x2="792" y2="709.50" stroke="#484848" stroke-width="0.85" stroke-dasharray="0.95,0.9"/>
<text x="202" y="712.1" font-family="Liberation Sans" font-size="10.9" fill="#111" text-anchor="end">-60</text>
<line x1="9" y1="722.50" x2="173" y2="722.50" stroke="#484848" stroke-width="0.85" stroke-dasharray="0.95,0.9"/>
<line x1="216" y1="722.50" x2="792" y2="722.50" stroke="#484848" stroke-width="0.85" stroke-dasharray="0.95,0.9"/>
<text x="202" y="724.9" font-family="Liberation Sans" font-size="10.9" fill="#111" text-anchor="end">-70</text>
<line x1="9" y1="734.50" x2="173" y2="734.50" stroke="#484848" stroke-width="0.85" stroke-dasharray="0.95,0.9"/>
<line x1="216" y1="734.50" x2="792" y2="734.50" stroke="#484848" stroke-width="0.85" stroke-dasharray="0.95,0.9"/>
<text x="202" y="737.6" font-family="Liberation Sans" font-size="10.9" fill="#111" text-anchor="end">-80</text>
<line x1="9" y1="747.50" x2="173" y2="747.50" stroke="#484848" stroke-width="0.85" stroke-dasharray="0.95,0.9"/>
<line x1="216" y1="747.50" x2="792" y2="747.50" stroke="#484848" stroke-width="0.85" stroke-dasharray="0.95,0.9"/>
<text x="202" y="750.4" font-family="Liberation Sans" font-size="10.9" fill="#111" text-anchor="end">-90</text>
<text x="183" y="635.9" font-family="Liberation Sans" font-size="10.9" fill="#111">dBm</text>
<text x="177.5" y="762.3" font-family="Liberation Sans" font-size="9.1" fill="#111">Channel</text>
<path d="M8,760.8 V632.8 H13" stroke="#111" stroke-width="1.6" fill="none"/>
<path d="M64.5,632.8 H110" stroke="#111" stroke-width="1.6" fill="none"/>
<path d="M162.5,632.8 H173.3 V760.8" stroke="#111" stroke-width="1.6" fill="none"/>
<path d="M215,760.8 V632.8 H482.5" stroke="#111" stroke-width="1.6" fill="none"/>
<path d="M523.5,632.8 H792.6 V760.8" stroke="#111" stroke-width="1.6" fill="none"/>
<text x="13.0" y="763" font-family="Liberation Sans" font-size="7.4" fill="#111" text-anchor="middle">2</text>
<text x="34.2" y="763" font-family="Liberation Sans" font-size="7.4" fill="#111" text-anchor="middle">4</text>
<text x="55.5" y="763" font-family="Liberation Sans" font-size="7.4" fill="#111" text-anchor="middle">5</text>
<text x="65.0" y="763" font-family="Liberation Sans" font-size="7.4" fill="#111" text-anchor="middle">6</text>
<text x="106.2" y="763" font-family="Liberation Sans" font-size="7.4" fill="#111" text-anchor="middle">7</text>
<text x="127.5" y="763" font-family="Liberation Sans" font-size="7.4" fill="#111" text-anchor="middle">9</text>
<text x="147.8" y="763" font-family="Liberation Sans" font-size="7.4" fill="#111" text-anchor="middle">11</text>
<text x="168.2" y="763" font-family="Liberation Sans" font-size="7.4" fill="#111" text-anchor="middle">13</text>
<line x1="8.0" y1="760.1" x2="10.7" y2="760.1" stroke="#111" stroke-width="1.6"/>
<line x1="15.3" y1="760.1" x2="31.9" y2="760.1" stroke="#111" stroke-width="1.6"/>
<line x1="36.5" y1="760.1" x2="53.2" y2="760.1" stroke="#111" stroke-width="1.6"/>
<line x1="57.8" y1="760.1" x2="62.7" y2="760.1" stroke="#111" stroke-width="1.6"/>
<line x1="67.3" y1="760.1" x2="103.9" y2="760.1" stroke="#111" stroke-width="1.6"/>
<line x1="108.5" y1="760.1" x2="125.2" y2="760.1" stroke="#111" stroke-width="1.6"/>
<line x1="129.8" y1="760.1" x2="143.5" y2="760.1" stroke="#111" stroke-width="1.6"/>
<line x1="152.1" y1="760.1" x2="163.9" y2="760.1" stroke="#111" stroke-width="1.6"/>
<line x1="172.5" y1="760.1" x2="173.3" y2="760.1" stroke="#111" stroke-width="1.6"/>
<text x="219.5" y="763" font-family="Liberation Sans" font-size="7.4" fill="#111" text-anchor="middle">14</text>
<text x="240.1" y="763" font-family="Liberation Sans" font-size="7.4" fill="#111" text-anchor="middle">16</text>
<text x="271.0" y="763" font-family="Liberation Sans" font-size="7.4" fill="#111" text-anchor="middle">19</text>
<text x="301.9" y="763" font-family="Liberation Sans" font-size="7.4" fill="#111" text-anchor="middle">22</text>
<text x="332.8" y="763" font-family="Liberation Sans" font-size="7.4" fill="#111" text-anchor="middle">25</text>
<text x="363.7" y="763" font-family="Liberation Sans" font-size="7.4" fill="#111" text-anchor="middle">28</text>
<text x="394.6" y="763" font-family="Liberation Sans" font-size="7.4" fill="#111" text-anchor="middle">31</text>
<text x="425.5" y="763" font-family="Liberation Sans" font-size="7.4" fill="#111" text-anchor="middle">34</text>
<text x="456.4" y="763" font-family="Liberation Sans" font-size="7.4" fill="#111" text-anchor="middle">37</text>
<text x="487.3" y="763" font-family="Liberation Sans" font-size="7.4" fill="#111" text-anchor="middle">40</text>
<text x="518.2" y="763" font-family="Liberation Sans" font-size="7.4" fill="#111" text-anchor="middle">43</text>
<text x="549.1" y="763" font-family="Liberation Sans" font-size="7.4" fill="#111" text-anchor="middle">46</text>
<text x="580.0" y="763" font-family="Liberation Sans" font-size="7.4" fill="#111" text-anchor="middle">49</text>
<text x="610.9" y="763" font-family="Liberation Sans" font-size="7.4" fill="#111" text-anchor="middle">52</text>
<text x="641.8" y="763" font-family="Liberation Sans" font-size="7.4" fill="#111" text-anchor="middle">55</text>
<text x="672.7" y="763" font-family="Liberation Sans" font-size="7.4" fill="#111" text-anchor="middle">58</text>
<text x="703.6" y="763" font-family="Liberation Sans" font-size="7.4" fill="#111" text-anchor="middle">61</text>
<text x="734.5" y="763" font-family="Liberation Sans" font-size="7.4" fill="#111" text-anchor="middle">64</text>
<text x="765.4" y="763" font-family="Liberation Sans" font-size="7.4" fill="#111" text-anchor="middle">67</text>
<text x="787.0" y="763" font-family="Liberation Sans" font-size="7.4" fill="#111" text-anchor="middle">69</text>
<line x1="215.0" y1="760.1" x2="215.2" y2="760.1" stroke="#111" stroke-width="1.6"/>
<line x1="223.8" y1="760.1" x2="235.8" y2="760.1" stroke="#111" stroke-width="1.6"/>
<line x1="244.4" y1="760.1" x2="266.7" y2="760.1" stroke="#111" stroke-width="1.6"/>
<line x1="275.3" y1="760.1" x2="297.6" y2="760.1" stroke="#111" stroke-width="1.6"/>
<line x1="306.2" y1="760.1" x2="328.5" y2="760.1" stroke="#111" stroke-width="1.6"/>
<line x1="337.1" y1="760.1" x2="359.4" y2="760.1" stroke="#111" stroke-width="1.6"/>
<line x1="368.0" y1="760.1" x2="390.3" y2="760.1" stroke="#111" stroke-width="1.6"/>
<line x1="398.9" y1="760.1" x2="421.2" y2="760.1" stroke="#111" stroke-width="1.6"/>
<line x1="429.8" y1="760.1" x2="452.1" y2="760.1" stroke="#111" stroke-width="1.6"/>
<line x1="460.7" y1="760.1" x2="483.0" y2="760.1" stroke="#111" stroke-width="1.6"/>
<line x1="491.6" y1="760.1" x2="513.9" y2="760.1" stroke="#111" stroke-width="1.6"/>
<line x1="522.5" y1="760.1" x2="544.8" y2="760.1" stroke="#111" stroke-width="1.6"/>
<line x1="553.4" y1="760.1" x2="575.7" y2="760.1" stroke="#111" stroke-width="1.6"/>
<line x1="584.3" y1="760.1" x2="606.6" y2="760.1" stroke="#111" stroke-width="1.6"/>
<line x1="615.2" y1="760.1" x2="637.5" y2="760.1" stroke="#111" stroke-width="1.6"/>
<line x1="646.1" y1="760.1" x2="668.4" y2="760.1" stroke="#111" stroke-width="1.6"/>
<line x1="677.0" y1="760.1" x2="699.3" y2="760.1" stroke="#111" stroke-width="1.6"/>
<line x1="707.9" y1="760.1" x2="730.2" y2="760.1" stroke="#111" stroke-width="1.6"/>
<line x1="738.8" y1="760.1" x2="761.1" y2="760.1" stroke="#111" stroke-width="1.6"/>
<line x1="769.7" y1="760.1" x2="782.7" y2="760.1" stroke="#111" stroke-width="1.6"/>
<line x1="791.3" y1="760.1" x2="792.5" y2="760.1" stroke="#111" stroke-width="1.6"/>
<rect x="346.7" y="617.5" width="7" height="11.3" fill="#c00000"/><text x="350.2" y="627" font-family="Liberation Sans" font-size="10.5" fill="#fff" text-anchor="middle">C</text>
<text x="361.2" y="627.6" font-family="Liberation Sans" font-size="11.6" fill="#111" textLength="123" lengthAdjust="spacing">= Co-channel warning</text>
<rect x="557.4" y="617.5" width="7" height="11.3" fill="#f58a8a"/><text x="560.9" y="627" font-family="Liberation Sans" font-size="11" fill="#fff" text-anchor="middle">a</text>
<text x="571.7" y="627.6" font-family="Liberation Sans" font-size="11.6" fill="#111" textLength="156.3" lengthAdjust="spacing">= Adjacent channel warning</text>
<rect x="58.3" y="703.6" width="12.4" height="6.4" rx="3.2" fill="#f4ee20"/>
<rect x="60.0" y="705.3" width="9" height="3" rx="0.8" fill="#1050c0"/>
<rect x="120.5" y="693.2" width="12.4" height="6.4" rx="3.2" fill="#f4ee20"/>
<rect x="122.2" y="694.9" width="9" height="3" rx="0.8" fill="#1050c0"/>
<rect x="161.3" y="686.1" width="12.4" height="6.4" rx="3.2" fill="#f4ee20"/>
<rect x="163.0" y="687.8" width="9" height="3" rx="0.8" fill="#1050c0"/>
<rect x="214.3" y="686.6" width="10.4" height="4.6" rx="2" fill="#fff" fill-opacity="0.75"/>
<rect x="215.2" y="687.4" width="8.6" height="3" rx="1.2" fill="#1050c0"/>
<rect x="245.2" y="704.6" width="10.4" height="4.6" rx="2" fill="#fff" fill-opacity="0.75"/>
<rect x="246.1" y="705.4" width="8.6" height="3" rx="1.2" fill="#1050c0"/>
<rect x="255.5" y="749.7" width="10.4" height="4.6" rx="2" fill="#fff" fill-opacity="0.75"/>
<rect x="256.4" y="750.5" width="8.6" height="3" rx="1.2" fill="#1050c0"/>
<rect x="276.1" y="714.5" width="10.4" height="4.6" rx="2" fill="#fff" fill-opacity="0.75"/>
<rect x="277.0" y="715.3" width="8.6" height="3" rx="1.2" fill="#1050c0"/>
<rect x="296.7" y="696.2" width="10.4" height="4.6" rx="2" fill="#fff" fill-opacity="0.75"/>
<rect x="297.6" y="697.0" width="8.6" height="3" rx="1.2" fill="#1050c0"/>
<rect x="307.0" y="735.4" width="10.4" height="4.6" rx="2" fill="#fff" fill-opacity="0.75"/>
<rect x="307.9" y="736.2" width="8.6" height="3" rx="1.2" fill="#1050c0"/>
<rect x="317.3" y="686.1" width="10.4" height="4.6" rx="2" fill="#fff" fill-opacity="0.75"/>
<rect x="318.2" y="686.9" width="8.6" height="3" rx="1.2" fill="#1050c0"/>
<rect x="327.6" y="683.3" width="10.4" height="4.6" rx="2" fill="#fff" fill-opacity="0.75"/>
<rect x="328.5" y="684.1" width="8.6" height="3" rx="1.2" fill="#1050c0"/>
<rect x="348.2" y="715.4" width="10.4" height="4.6" rx="2" fill="#fff" fill-opacity="0.75"/>
<rect x="349.1" y="716.2" width="8.6" height="3" rx="1.2" fill="#1050c0"/>
<rect x="379.1" y="680.1" width="10.4" height="4.6" rx="2" fill="#fff" fill-opacity="0.75"/>
<rect x="380.0" y="680.9" width="8.6" height="3" rx="1.2" fill="#1050c0"/>
<rect x="410.0" y="677.6" width="10.4" height="4.6" rx="2" fill="#fff" fill-opacity="0.75"/>
<rect x="410.9" y="678.4" width="8.6" height="3" rx="1.2" fill="#1050c0"/>
<rect x="410.0" y="708.5" width="10.4" height="4.6" rx="2" fill="#fff" fill-opacity="0.75"/>
<rect x="410.9" y="709.3" width="8.6" height="3" rx="1.2" fill="#1050c0"/>
<rect x="420.3" y="693.0" width="10.4" height="4.6" rx="2" fill="#fff" fill-opacity="0.75"/>
<rect x="421.2" y="693.8" width="8.6" height="3" rx="1.2" fill="#1050c0"/>
<rect x="461.5" y="723.5" width="10.4" height="4.6" rx="2" fill="#fff" fill-opacity="0.75"/>
<rect x="462.4" y="724.3" width="8.6" height="3" rx="1.2" fill="#1050c0"/>
<rect x="482.1" y="688.4" width="10.4" height="4.6" rx="2" fill="#fff" fill-opacity="0.75"/>
<rect x="483.0" y="689.2" width="8.6" height="3" rx="1.2" fill="#1050c0"/>
<rect x="502.7" y="712.5" width="10.4" height="4.6" rx="2" fill="#fff" fill-opacity="0.75"/>
<rect x="503.6" y="713.3" width="8.6" height="3" rx="1.2" fill="#1050c0"/>
<rect x="513.0" y="722.0" width="10.4" height="4.6" rx="2" fill="#fff" fill-opacity="0.75"/>
<rect x="513.9" y="722.8" width="8.6" height="3" rx="1.2" fill="#1050c0"/>
<rect x="543.9" y="748.2" width="10.4" height="4.6" rx="2" fill="#fff" fill-opacity="0.75"/>
<rect x="544.8" y="749.0" width="8.6" height="3" rx="1.2" fill="#1050c0"/>
<rect x="543.9" y="739.3" width="10.4" height="4.6" rx="2" fill="#fff" fill-opacity="0.75"/>
<rect x="544.8" y="740.1" width="8.6" height="3" rx="1.2" fill="#1050c0"/>
<rect x="543.9" y="739.4" width="10.4" height="4.6" rx="2" fill="#fff" fill-opacity="0.75"/>
<rect x="544.8" y="740.2" width="8.6" height="3" rx="1.2" fill="#1050c0"/>
<rect x="543.9" y="750.7" width="10.4" height="4.6" rx="2" fill="#fff" fill-opacity="0.75"/>
<rect x="544.8" y="751.5" width="8.6" height="3" rx="1.2" fill="#1050c0"/>
<rect x="595.4" y="754.6" width="10.4" height="4.6" rx="2" fill="#fff" fill-opacity="0.75"/>
<rect x="596.3" y="755.4" width="8.6" height="3" rx="1.2" fill="#1050c0"/>
<g font-family="Liberation Sans" font-size="9.6" fill="#1560d0" stroke="#1560d0" stroke-width="0.08" letter-spacing="0.3">
<text transform="translate(67.1,701.8) rotate(-90)" stroke="#fff" stroke-width="2.6" stroke-linejoin="round" fill="#fff" stroke-opacity="0.9">CIII-DT-6</text><text transform="translate(67.1,701.8) rotate(-90)">CIII-DT-6</text>
<text transform="translate(129.3,691.4) rotate(-90)" stroke="#fff" stroke-width="2.6" stroke-linejoin="round" fill="#fff" stroke-opacity="0.9">CBOFT-DT(1)</text><text transform="translate(129.3,691.4) rotate(-90)">CBOFT-DT(1)</text>
<text transform="translate(170.1,684.3) rotate(-90)" stroke="#fff" stroke-width="2.6" stroke-linejoin="round" fill="#fff" stroke-opacity="0.9">CJOH-DT</text><text transform="translate(170.1,684.3) rotate(-90)">CJOH-DT</text>
<text transform="translate(222.1,683.9) rotate(-90)" stroke="#fff" stroke-width="2.6" stroke-linejoin="round" fill="#fff" stroke-opacity="0.9">CIII-DT-6(1)</text><text transform="translate(222.1,683.9) rotate(-90)">CIII-DT-6(1)</text>
<text transform="translate(253.0,701.9) rotate(-90)" stroke="#fff" stroke-width="2.6" stroke-linejoin="round" fill="#fff" stroke-opacity="0.9">CITY-DT-3</text><text transform="translate(253.0,701.9) rotate(-90)">CITY-DT-3</text>
<text transform="translate(263.3,747.0) rotate(-90)" stroke="#fff" stroke-width="2.6" stroke-linejoin="round" fill="#fff" stroke-opacity="0.9">WNYF-LD</text><text transform="translate(263.3,747.0) rotate(-90)">WNYF-LD</text>
<text transform="translate(283.9,711.8) rotate(-90)" stroke="#fff" stroke-width="2.6" stroke-linejoin="round" fill="#fff" stroke-opacity="0.9">CJMT-DT-2</text><text transform="translate(283.9,711.8) rotate(-90)">CJMT-DT-2</text>
<text transform="translate(304.5,693.5) rotate(-90)" stroke="#fff" stroke-width="2.6" stroke-linejoin="round" fill="#fff" stroke-opacity="0.9">CHCH-DT-1</text><text transform="translate(304.5,693.5) rotate(-90)">CHCH-DT-1</text>
<text transform="translate(314.8,732.7) rotate(-90)" stroke="#fff" stroke-width="2.6" stroke-linejoin="round" fill="#fff" stroke-opacity="0.9">WNPI-DT</text><text transform="translate(314.8,732.7) rotate(-90)">WNPI-DT</text>
<text transform="translate(325.1,683.4) rotate(-90)" stroke="#fff" stroke-width="2.6" stroke-linejoin="round" fill="#fff" stroke-opacity="0.9">CICO-DT-24</text><text transform="translate(325.1,683.4) rotate(-90)">CICO-DT-24</text>
<text transform="translate(335.4,680.6) rotate(-90)" stroke="#fff" stroke-width="2.6" stroke-linejoin="round" fill="#fff" stroke-opacity="0.9">CBOT-DT</text><text transform="translate(335.4,680.6) rotate(-90)">CBOT-DT</text>
<text transform="translate(356.0,712.7) rotate(-90)" stroke="#fff" stroke-width="2.6" stroke-linejoin="round" fill="#fff" stroke-opacity="0.9">CFMT-DT-2(2)</text><text transform="translate(356.0,712.7) rotate(-90)">CFMT-DT-2(2)</text>
<text transform="translate(386.9,677.4) rotate(-90)" stroke="#fff" stroke-width="2.6" stroke-linejoin="round" fill="#fff" stroke-opacity="0.9">CIVO-DT</text><text transform="translate(386.9,677.4) rotate(-90)">CIVO-DT</text>
<text transform="translate(417.8,674.9) rotate(-90)" stroke="#fff" stroke-width="2.6" stroke-linejoin="round" fill="#fff" stroke-opacity="0.9">CBOFT-DT(2)</text><text transform="translate(417.8,674.9) rotate(-90)">CBOFT-DT(2)</text>
<text transform="translate(417.8,705.8) rotate(-90)" stroke="#fff" stroke-width="2.6" stroke-linejoin="round" fill="#fff" stroke-opacity="0.9">CBOFT-DT(3)</text><text transform="translate(417.8,705.8) rotate(-90)">CBOFT-DT(3)</text>
<text transform="translate(428.1,690.3) rotate(-90)" stroke="#fff" stroke-width="2.6" stroke-linejoin="round" fill="#fff" stroke-opacity="0.9">CFGS-DT</text><text transform="translate(428.1,690.3) rotate(-90)">CFGS-DT</text>
<text transform="translate(469.3,720.8) rotate(-90)" stroke="#fff" stroke-width="2.6" stroke-linejoin="round" fill="#fff" stroke-opacity="0.9">WCFE-DT</text><text transform="translate(469.3,720.8) rotate(-90)">WCFE-DT</text>
<text transform="translate(489.9,685.7) rotate(-90)" stroke="#fff" stroke-width="2.6" stroke-linejoin="round" fill="#fff" stroke-opacity="0.9">CHOT-DT</text><text transform="translate(489.9,685.7) rotate(-90)">CHOT-DT</text>
<text transform="translate(510.5,709.8) rotate(-90)" stroke="#fff" stroke-width="2.6" stroke-linejoin="round" fill="#fff" stroke-opacity="0.9">CITS-DT-1</text><text transform="translate(510.5,709.8) rotate(-90)">CITS-DT-1</text>
<text transform="translate(520.8,719.3) rotate(-90)" stroke="#fff" stroke-width="2.6" stroke-linejoin="round" fill="#fff" stroke-opacity="0.9">CHRO-DT-43</text><text transform="translate(520.8,719.3) rotate(-90)">CHRO-DT-43</text>
<text transform="translate(551.7,745.5) rotate(-90)" stroke="#fff" stroke-width="2.6" stroke-linejoin="round" fill="#fff" stroke-opacity="0.9">CRC-DT-3</text><text transform="translate(551.7,745.5) rotate(-90)">CRC-DT-3</text>
<text transform="translate(551.7,736.6) rotate(-90)" stroke="#fff" stroke-width="2.6" stroke-linejoin="round" fill="#fff" stroke-opacity="0.9">CRC-DT-2</text><text transform="translate(551.7,736.6) rotate(-90)">CRC-DT-2</text>
<text transform="translate(551.7,736.7) rotate(-90)" stroke="#fff" stroke-width="2.6" stroke-linejoin="round" fill="#fff" stroke-opacity="0.9">CRC-DT-4</text><text transform="translate(551.7,736.7) rotate(-90)">CRC-DT-4</text>
<text transform="translate(551.7,748.0) rotate(-90)" stroke="#fff" stroke-width="2.6" stroke-linejoin="round" fill="#fff" stroke-opacity="0.9">CRC-DT-5</text><text transform="translate(551.7,748.0) rotate(-90)">CRC-DT-5</text>
<text transform="translate(603.2,751.9) rotate(-90)" stroke="#fff" stroke-width="2.6" stroke-linejoin="round" fill="#fff" stroke-opacity="0.9">CRC-DT-1</text><text transform="translate(603.2,751.9) rotate(-90)">CRC-DT-1</text>
</g>
<text x="39.5" y="636.6" font-family="Liberation Sans" font-size="11.3" font-weight="bold" fill="#111" text-anchor="middle">VHF Lo</text>
<text x="138" y="636.6" font-family="Liberation Sans" font-size="11.3" font-weight="bold" fill="#111" text-anchor="middle">VHF Hi</text>
<text x="503.3" y="636.6" font-family="Liberation Sans" font-size="11.3" font-weight="bold" fill="#111" text-anchor="middle">UHF</text>
</svg>
</div></body></html>
